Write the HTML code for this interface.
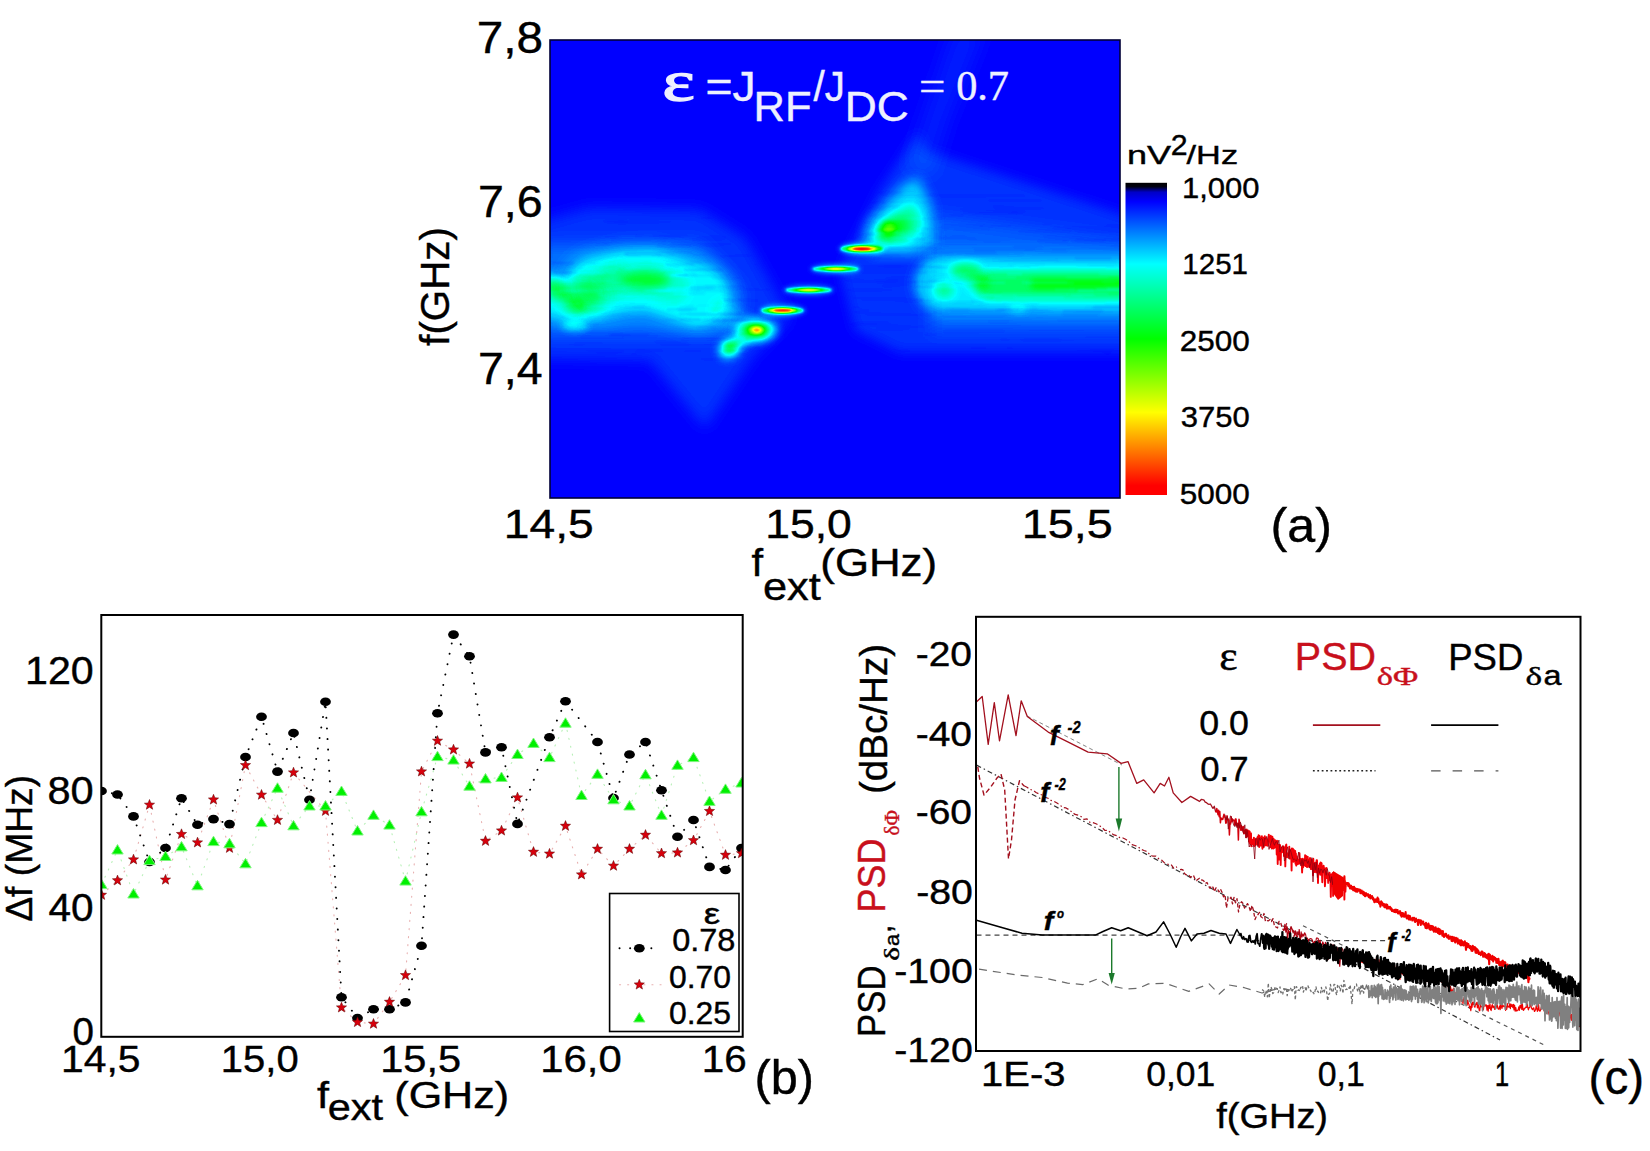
<!DOCTYPE html>
<html><head><meta charset="utf-8"><title>Figure</title>
<style>
html,body{margin:0;padding:0;background:#fff;}
body{width:1650px;height:1151px;overflow:hidden;}
svg{display:block;}
text{white-space:pre;}
</style></head><body>
<svg width="1650" height="1151" viewBox="0 0 1650 1151">
<rect width="1650" height="1151" fill="#fff"/>
<!-- panel a -->
<defs>
<filter id="cm" color-interpolation-filters="sRGB" filterUnits="userSpaceOnUse" x="540" y="30" width="600" height="480"><feComponentTransfer><feFuncR type="table" tableValues="0 0 0 1 1 0.25"/><feFuncG type="table" tableValues="0 1 1 1 0 0"/><feFuncB type="table" tableValues="1 1 0 0 0 0"/></feComponentTransfer></filter>
<filter id="b1" filterUnits="userSpaceOnUse" x="400" y="-100" width="900" height="800"><feGaussianBlur stdDeviation="1"/></filter>
<filter id="b2" filterUnits="userSpaceOnUse" x="400" y="-100" width="900" height="800"><feGaussianBlur stdDeviation="2"/></filter>
<filter id="b3" filterUnits="userSpaceOnUse" x="400" y="-100" width="900" height="800"><feGaussianBlur stdDeviation="3"/></filter>
<filter id="b4" filterUnits="userSpaceOnUse" x="400" y="-100" width="900" height="800"><feGaussianBlur stdDeviation="4"/></filter>
<filter id="b5" filterUnits="userSpaceOnUse" x="400" y="-100" width="900" height="800"><feGaussianBlur stdDeviation="5"/></filter>
<filter id="b6" filterUnits="userSpaceOnUse" x="400" y="-100" width="900" height="800"><feGaussianBlur stdDeviation="6"/></filter>
<filter id="b7" filterUnits="userSpaceOnUse" x="400" y="-100" width="900" height="800"><feGaussianBlur stdDeviation="7"/></filter>
<filter id="b8" filterUnits="userSpaceOnUse" x="400" y="-100" width="900" height="800"><feGaussianBlur stdDeviation="8"/></filter>
<filter id="b9" filterUnits="userSpaceOnUse" x="400" y="-100" width="900" height="800"><feGaussianBlur stdDeviation="9"/></filter>
<filter id="b10" filterUnits="userSpaceOnUse" x="400" y="-100" width="900" height="800"><feGaussianBlur stdDeviation="10"/></filter>
<filter id="b11" filterUnits="userSpaceOnUse" x="400" y="-100" width="900" height="800"><feGaussianBlur stdDeviation="11"/></filter>
<filter id="b12" filterUnits="userSpaceOnUse" x="400" y="-100" width="900" height="800"><feGaussianBlur stdDeviation="12"/></filter>
<filter id="b13" filterUnits="userSpaceOnUse" x="400" y="-100" width="900" height="800"><feGaussianBlur stdDeviation="13"/></filter>
<filter id="b14" filterUnits="userSpaceOnUse" x="400" y="-100" width="900" height="800"><feGaussianBlur stdDeviation="14"/></filter>
<clipPath id="hc"><rect x="550" y="40" width="570" height="458"/></clipPath>
<linearGradient id="cbar" x1="0" y1="0" x2="0" y2="1"><stop offset="0" stop-color="#000"/><stop offset="0.012" stop-color="#000010"/><stop offset="0.03" stop-color="#0000c8"/><stop offset="0.06" stop-color="#0000ff"/><stop offset="0.26" stop-color="#00ffff"/><stop offset="0.5" stop-color="#00ff00"/><stop offset="0.735" stop-color="#ffff00"/><stop offset="0.97" stop-color="#ff0000"/><stop offset="1" stop-color="#ff0000"/></linearGradient>
</defs>
<g clip-path="url(#hc)"><g filter="url(#cm)">
<rect x="540" y="30" width="600" height="480" fill="#000"/>
<polygon points="540,222 590,208 700,210 745,238 790,318 753,356 705,428 650,360 540,358" fill="#fff" fill-opacity="0.04" filter="url(#b7)"/>
<polygon points="540,245 700,243 742,290 740,335 540,335" fill="#fff" fill-opacity="0.05" filter="url(#b8)"/>
<polygon points="925,150 1130,217 1130,352 900,352 855,330 840,270 880,190 918,132" fill="#fff" fill-opacity="0.04" filter="url(#b6)"/>
<polygon points="930,215 1130,242 1130,332 930,332" fill="#fff" fill-opacity="0.035" filter="url(#b8)"/>
<polygon points="905,168 952,30 986,30 950,120 932,178" fill="#fff" fill-opacity="0.02" filter="url(#b8)"/>
<polyline points="598,287 625,281 650,280 672,287 698,296" fill="none" stroke="#fff" stroke-opacity="0.05" stroke-width="76" stroke-linecap="round" stroke-linejoin="round" filter="url(#b7)"/>
<polyline points="598,287 625,281 650,280 672,287 698,296" fill="none" stroke="#fff" stroke-opacity="0.075" stroke-width="58" stroke-linecap="round" stroke-linejoin="round" filter="url(#b5)"/>
<polyline points="598,287 625,281 650,280 672,287" fill="none" stroke="#fff" stroke-opacity="0.05" stroke-width="34" stroke-linecap="round" stroke-linejoin="round" filter="url(#b5)"/>
<polyline points="540,294 572,303 584,296" fill="none" stroke="#fff" stroke-opacity="0.08" stroke-width="46" stroke-linecap="round" stroke-linejoin="round" filter="url(#b6)"/>
<polyline points="540,294 572,303 584,296" fill="none" stroke="#fff" stroke-opacity="0.06" stroke-width="28" stroke-linecap="round" stroke-linejoin="round" filter="url(#b4)"/>
<ellipse cx="557" cy="289" rx="14" ry="9" fill="#fff" fill-opacity="0.17" filter="url(#b4)" transform="rotate(35 557 289)"/>
<ellipse cx="575" cy="305" rx="11" ry="7" fill="#fff" fill-opacity="0.14" filter="url(#b4)" transform="rotate(20 575 305)"/>
<ellipse cx="575" cy="326" rx="13" ry="5" fill="#fff" fill-opacity="0.09" filter="url(#b3)"/>
<ellipse cx="646" cy="280" rx="24" ry="9" fill="#fff" fill-opacity="0.17" filter="url(#b5)"/>
<ellipse cx="612" cy="279" rx="16" ry="15" fill="#fff" fill-opacity="0.06" filter="url(#b5)"/>
<polyline points="722,310 738,321 755,330" fill="none" stroke="#fff" stroke-opacity="0.045" stroke-width="20" stroke-linecap="round" stroke-linejoin="round" filter="url(#b5)"/>
<ellipse cx="756.6" cy="330.3" rx="20" ry="11" fill="#fff" fill-opacity="0.22" filter="url(#b4)"/>
<ellipse cx="756.6" cy="330.3" rx="11" ry="6" fill="#fff" fill-opacity="0.3" filter="url(#b3)"/>
<ellipse cx="756.6" cy="330.3" rx="5" ry="2.5" fill="#fff" fill-opacity="0.55" filter="url(#b2)"/>
<ellipse cx="730" cy="348" rx="12" ry="9" fill="#fff" fill-opacity="0.22" filter="url(#b4)" transform="rotate(-35 730 348)"/>
<ellipse cx="730" cy="348" rx="6" ry="5" fill="#fff" fill-opacity="0.2" filter="url(#b3)"/>
<ellipse cx="742" cy="340" rx="10" ry="7" fill="#fff" fill-opacity="0.1" filter="url(#b3)"/>
<ellipse cx="782.6" cy="310.5" rx="23" ry="6.1" fill="#fff" fill-opacity="0.1" filter="url(#b2)"/>
<ellipse cx="782.6" cy="310.5" rx="21" ry="3.6" fill="#fff" fill-opacity="0.28" filter="url(#b1)"/>
<ellipse cx="782.6" cy="310.5" rx="14.7" ry="2.16" fill="#fff" fill-opacity="0.45" filter="url(#b1)"/>
<ellipse cx="782.6" cy="310.5" rx="9.450000000000001" ry="1.26" fill="#fff" fill-opacity="0.7" filter="url(#b1)"/>
<ellipse cx="808.7" cy="290" rx="25" ry="5.1" fill="#fff" fill-opacity="0.1" filter="url(#b2)"/>
<ellipse cx="808.7" cy="290" rx="23" ry="2.6" fill="#fff" fill-opacity="0.28" filter="url(#b1)"/>
<ellipse cx="808.7" cy="290" rx="16.099999999999998" ry="1.56" fill="#fff" fill-opacity="0.27" filter="url(#b1)"/>
<ellipse cx="808.7" cy="290" rx="10.35" ry="0.9099999999999999" fill="#fff" fill-opacity="0.42" filter="url(#b1)"/>
<ellipse cx="835.5" cy="269" rx="25" ry="5.1" fill="#fff" fill-opacity="0.1" filter="url(#b2)"/>
<ellipse cx="835.5" cy="269" rx="23" ry="2.6" fill="#fff" fill-opacity="0.28" filter="url(#b1)"/>
<ellipse cx="835.5" cy="269" rx="16.099999999999998" ry="1.56" fill="#fff" fill-opacity="0.27" filter="url(#b1)"/>
<ellipse cx="835.5" cy="269" rx="10.35" ry="0.9099999999999999" fill="#fff" fill-opacity="0.42" filter="url(#b1)"/>
<ellipse cx="861.7" cy="248.8" rx="23" ry="6.3" fill="#fff" fill-opacity="0.1" filter="url(#b2)"/>
<ellipse cx="861.7" cy="248.8" rx="21" ry="3.8" fill="#fff" fill-opacity="0.28" filter="url(#b1)"/>
<ellipse cx="861.7" cy="248.8" rx="14.7" ry="2.28" fill="#fff" fill-opacity="0.45" filter="url(#b1)"/>
<ellipse cx="861.7" cy="248.8" rx="9.450000000000001" ry="1.3299999999999998" fill="#fff" fill-opacity="0.7" filter="url(#b1)"/>
<polygon points="864,244 868,222 886,203 905,183 918,178 931,204 934,244 916,254 876,254" fill="#fff" fill-opacity="0.13" filter="url(#b6)"/>
<polygon points="874,238 880,224 896,212 912,203 921,217 919,236 905,244 884,244" fill="#fff" fill-opacity="0.13" filter="url(#b5)"/>
<ellipse cx="893" cy="229" rx="17" ry="10" fill="#fff" fill-opacity="0.13" filter="url(#b4)" transform="rotate(-25 893 229)"/>
<ellipse cx="888" cy="229" rx="8" ry="7" fill="#fff" fill-opacity="0.2" filter="url(#b3)"/>
<polyline points="948,284 1000,284 1060,285 1130,285" fill="none" stroke="#fff" stroke-opacity="0.045" stroke-width="70" stroke-linecap="round" stroke-linejoin="round" filter="url(#b6)"/>
<polyline points="940,283 1000,284 1060,285 1130,285" fill="none" stroke="#fff" stroke-opacity="0.08" stroke-width="50" stroke-linecap="round" stroke-linejoin="round" filter="url(#b4)"/>
<polyline points="990,285 1060,285 1130,285" fill="none" stroke="#fff" stroke-opacity="0.17" stroke-width="28" stroke-linecap="round" stroke-linejoin="round" filter="url(#b4)"/>
<polyline points="1035,284 1130,284" fill="none" stroke="#fff" stroke-opacity="0.11" stroke-width="10" stroke-linecap="round" stroke-linejoin="round" filter="url(#b3)"/>
<ellipse cx="966" cy="271" rx="15" ry="8" fill="#fff" fill-opacity="0.17" filter="url(#b4)"/>
<ellipse cx="944" cy="290" rx="10" ry="8" fill="#fff" fill-opacity="0.12" filter="url(#b4)"/>
<ellipse cx="978" cy="282" rx="11" ry="9" fill="#fff" fill-opacity="0.1" filter="url(#b4)"/>
<ellipse cx="1018" cy="309" rx="10" ry="4" fill="#fff" fill-opacity="0.06" filter="url(#b3)"/>
<g fill="#000" filter="url(#b1)" id="streaks"><rect x="861" y="269.2" width="66" height="1" fill-opacity="0.10"/><rect x="834" y="222.3" width="49" height="1" fill-opacity="0.14"/><rect x="625" y="268.2" width="44" height="1" fill-opacity="0.15"/><rect x="769" y="294.2" width="39" height="1" fill-opacity="0.13"/><rect x="1015" y="299.0" width="18" height="1" fill-opacity="0.05"/><rect x="985" y="294.9" width="32" height="1" fill-opacity="0.12"/><rect x="907" y="280.8" width="42" height="2" fill-opacity="0.12"/><rect x="775" y="304.6" width="45" height="1" fill-opacity="0.15"/><rect x="723" y="313.9" width="27" height="1" fill-opacity="0.08"/><rect x="606" y="288.5" width="20" height="1" fill-opacity="0.08"/><rect x="1024" y="357.7" width="14" height="1" fill-opacity="0.07"/><rect x="1099" y="272.2" width="36" height="1" fill-opacity="0.06"/><rect x="697" y="326.2" width="19" height="2" fill-opacity="0.09"/><rect x="612" y="322.7" width="28" height="1" fill-opacity="0.06"/><rect x="820" y="271.4" width="52" height="1" fill-opacity="0.07"/><rect x="980" y="362.4" width="37" height="2" fill-opacity="0.09"/><rect x="665" y="263.6" width="29" height="1.5" fill-opacity="0.16"/><rect x="556" y="364.6" width="24" height="1" fill-opacity="0.16"/><rect x="628" y="197.4" width="39" height="1.5" fill-opacity="0.05"/><rect x="763" y="335.3" width="18" height="1" fill-opacity="0.07"/><rect x="753" y="192.7" width="49" height="2" fill-opacity="0.06"/><rect x="622" y="335.7" width="36" height="1.5" fill-opacity="0.12"/><rect x="1007" y="349.0" width="28" height="1" fill-opacity="0.07"/><rect x="764" y="310.2" width="41" height="1" fill-opacity="0.06"/><rect x="567" y="208.2" width="68" height="2" fill-opacity="0.08"/><rect x="1010" y="235.0" width="47" height="1" fill-opacity="0.08"/><rect x="1097" y="352.6" width="21" height="1" fill-opacity="0.10"/><rect x="1063" y="239.0" width="25" height="1.5" fill-opacity="0.05"/><rect x="686" y="262.0" width="17" height="1" fill-opacity="0.08"/><rect x="623" y="206.1" width="39" height="1" fill-opacity="0.09"/><rect x="1067" y="293.2" width="41" height="1.5" fill-opacity="0.09"/><rect x="557" y="358.5" width="50" height="1.5" fill-opacity="0.10"/><rect x="1110" y="245.8" width="18" height="1" fill-opacity="0.11"/><rect x="961" y="347.5" width="53" height="1.5" fill-opacity="0.14"/><rect x="932" y="251.6" width="64" height="2" fill-opacity="0.15"/><rect x="562" y="355.2" width="42" height="2" fill-opacity="0.05"/><rect x="552" y="256.4" width="18" height="1" fill-opacity="0.06"/><rect x="1042" y="363.8" width="55" height="2" fill-opacity="0.09"/><rect x="1019" y="267.1" width="19" height="1" fill-opacity="0.13"/><rect x="595" y="244.3" width="15" height="1" fill-opacity="0.16"/><rect x="892" y="277.0" width="66" height="1" fill-opacity="0.08"/><rect x="626" y="254.4" width="48" height="1.5" fill-opacity="0.11"/><rect x="795" y="305.5" width="64" height="1.5" fill-opacity="0.09"/><rect x="788" y="224.7" width="59" height="1" fill-opacity="0.15"/><rect x="874" y="257.3" width="32" height="2" fill-opacity="0.06"/><rect x="1051" y="251.4" width="16" height="1.5" fill-opacity="0.06"/><rect x="609" y="333.8" width="40" height="2" fill-opacity="0.15"/><rect x="839" y="256.9" width="52" height="2" fill-opacity="0.13"/><rect x="1013" y="246.1" width="30" height="1.5" fill-opacity="0.12"/><rect x="720" y="289.9" width="58" height="1" fill-opacity="0.05"/><rect x="652" y="260.9" width="57" height="1" fill-opacity="0.08"/><rect x="1101" y="329.4" width="20" height="1.5" fill-opacity="0.06"/><rect x="932" y="357.7" width="25" height="1" fill-opacity="0.10"/><rect x="972" y="315.0" width="44" height="1" fill-opacity="0.05"/><rect x="740" y="237.7" width="53" height="1" fill-opacity="0.11"/><rect x="992" y="258.9" width="65" height="2" fill-opacity="0.06"/><rect x="801" y="212.7" width="49" height="2" fill-opacity="0.15"/><rect x="914" y="286.3" width="42" height="1.5" fill-opacity="0.14"/><rect x="913" y="271.1" width="25" height="1" fill-opacity="0.13"/><rect x="1053" y="227.3" width="69" height="1.5" fill-opacity="0.16"/><rect x="951" y="235.8" width="15" height="1" fill-opacity="0.11"/><rect x="856" y="267.2" width="57" height="1" fill-opacity="0.10"/><rect x="1035" y="228.2" width="38" height="1.5" fill-opacity="0.05"/><rect x="1063" y="310.2" width="40" height="2" fill-opacity="0.16"/><rect x="823" y="355.5" width="67" height="1" fill-opacity="0.06"/><rect x="861" y="266.9" width="61" height="1" fill-opacity="0.11"/><rect x="1022" y="281.5" width="45" height="2" fill-opacity="0.08"/><rect x="1037" y="357.1" width="48" height="1" fill-opacity="0.08"/><rect x="841" y="359.5" width="46" height="1" fill-opacity="0.07"/><rect x="887" y="278.1" width="16" height="2" fill-opacity="0.16"/><rect x="1104" y="285.2" width="21" height="1" fill-opacity="0.06"/><rect x="849" y="201.5" width="37" height="2" fill-opacity="0.16"/><rect x="812" y="237.1" width="21" height="2" fill-opacity="0.10"/><rect x="606" y="281.9" width="37" height="1.5" fill-opacity="0.05"/><rect x="985" y="212.7" width="15" height="1" fill-opacity="0.07"/><rect x="706" y="192.1" width="55" height="2" fill-opacity="0.08"/><rect x="958" y="208.4" width="21" height="1.5" fill-opacity="0.11"/><rect x="941" y="315.6" width="63" height="2" fill-opacity="0.05"/><rect x="893" y="334.4" width="44" height="1" fill-opacity="0.15"/><rect x="1026" y="282.7" width="48" height="1" fill-opacity="0.14"/><rect x="900" y="350.1" width="33" height="1.5" fill-opacity="0.07"/><rect x="655" y="345.9" width="58" height="1" fill-opacity="0.07"/><rect x="680" y="213.4" width="55" height="1" fill-opacity="0.08"/><rect x="1077" y="266.1" width="44" height="1" fill-opacity="0.13"/><rect x="932" y="260.5" width="15" height="1.5" fill-opacity="0.07"/><rect x="1092" y="349.5" width="20" height="1.5" fill-opacity="0.11"/><rect x="932" y="278.0" width="25" height="1" fill-opacity="0.06"/><rect x="976" y="194.3" width="48" height="2" fill-opacity="0.15"/><rect x="649" y="215.6" width="25" height="1.5" fill-opacity="0.14"/><rect x="599" y="352.2" width="17" height="2" fill-opacity="0.15"/><rect x="600" y="203.6" width="36" height="1.5" fill-opacity="0.10"/><rect x="885" y="265.3" width="15" height="1" fill-opacity="0.13"/><rect x="801" y="221.7" width="55" height="1" fill-opacity="0.09"/><rect x="599" y="295.9" width="58" height="1" fill-opacity="0.09"/><rect x="943" y="330.3" width="62" height="2" fill-opacity="0.12"/><rect x="653" y="289.7" width="47" height="1.5" fill-opacity="0.09"/><rect x="611" y="238.9" width="56" height="2" fill-opacity="0.07"/><rect x="731" y="213.3" width="44" height="2" fill-opacity="0.09"/><rect x="774" y="323.9" width="54" height="1.5" fill-opacity="0.06"/><rect x="602" y="242.8" width="64" height="1" fill-opacity="0.16"/><rect x="1079" y="230.6" width="51" height="2" fill-opacity="0.09"/><rect x="846" y="289.7" width="36" height="1" fill-opacity="0.16"/><rect x="975" y="312.7" width="69" height="1" fill-opacity="0.05"/><rect x="690" y="319.3" width="36" height="1" fill-opacity="0.06"/><rect x="551" y="303.4" width="28" height="1.5" fill-opacity="0.08"/><rect x="832" y="286.3" width="68" height="1" fill-opacity="0.11"/><rect x="1002" y="301.7" width="18" height="1" fill-opacity="0.12"/><rect x="1075" y="257.6" width="36" height="2" fill-opacity="0.16"/><rect x="882" y="284.8" width="38" height="1.5" fill-opacity="0.10"/><rect x="883" y="282.2" width="34" height="1.5" fill-opacity="0.08"/><rect x="705" y="288.1" width="54" height="1" fill-opacity="0.08"/><rect x="876" y="325.2" width="49" height="2" fill-opacity="0.09"/><rect x="723" y="199.2" width="36" height="1.5" fill-opacity="0.11"/><rect x="1057" y="202.9" width="38" height="1" fill-opacity="0.10"/><rect x="601" y="198.0" width="59" height="1" fill-opacity="0.15"/><rect x="1006" y="361.3" width="48" height="2" fill-opacity="0.06"/><rect x="660" y="269.7" width="17" height="1" fill-opacity="0.11"/><rect x="624" y="253.6" width="37" height="2" fill-opacity="0.12"/><rect x="965" y="253.7" width="60" height="1.5" fill-opacity="0.07"/><rect x="680" y="318.5" width="20" height="1.5" fill-opacity="0.15"/><rect x="890" y="238.1" width="55" height="1" fill-opacity="0.13"/><rect x="971" y="300.8" width="25" height="1" fill-opacity="0.08"/><rect x="567" y="343.8" width="17" height="2" fill-opacity="0.08"/><rect x="566" y="194.7" width="26" height="1" fill-opacity="0.08"/><rect x="636" y="349.8" width="27" height="2" fill-opacity="0.16"/><rect x="664" y="273.7" width="33" height="1" fill-opacity="0.13"/><rect x="798" y="330.4" width="60" height="1" fill-opacity="0.14"/><rect x="967" y="267.8" width="36" height="1" fill-opacity="0.07"/><rect x="1104" y="304.4" width="32" height="1" fill-opacity="0.11"/><rect x="754" y="264.8" width="19" height="1" fill-opacity="0.15"/><rect x="789" y="285.1" width="46" height="2" fill-opacity="0.14"/><rect x="983" y="242.3" width="18" height="1" fill-opacity="0.07"/><rect x="825" y="311.6" width="57" height="1" fill-opacity="0.09"/><rect x="916" y="228.3" width="32" height="1.5" fill-opacity="0.15"/><rect x="867" y="314.1" width="65" height="1.5" fill-opacity="0.15"/><rect x="999" y="266.6" width="31" height="2" fill-opacity="0.08"/><rect x="957" y="359.4" width="43" height="1.5" fill-opacity="0.06"/><rect x="928" y="194.2" width="47" height="1.5" fill-opacity="0.14"/><rect x="850" y="329.5" width="61" height="1" fill-opacity="0.11"/><rect x="802" y="205.7" width="62" height="1" fill-opacity="0.14"/><rect x="852" y="280.2" width="46" height="2" fill-opacity="0.16"/><rect x="854" y="201.2" width="58" height="1" fill-opacity="0.06"/><rect x="605" y="237.9" width="32" height="1" fill-opacity="0.05"/><rect x="1006" y="207.1" width="38" height="2" fill-opacity="0.13"/><rect x="840" y="323.9" width="57" height="1.5" fill-opacity="0.09"/><rect x="733" y="331.3" width="22" height="1" fill-opacity="0.10"/><rect x="1062" y="313.9" width="37" height="1.5" fill-opacity="0.14"/><rect x="1000" y="339.4" width="61" height="1" fill-opacity="0.15"/><rect x="946" y="281.7" width="59" height="2" fill-opacity="0.10"/><rect x="684" y="350.2" width="23" height="1" fill-opacity="0.12"/><rect x="765" y="246.2" width="44" height="1" fill-opacity="0.08"/><rect x="958" y="272.5" width="31" height="1" fill-opacity="0.07"/><rect x="971" y="349.6" width="15" height="1" fill-opacity="0.10"/><rect x="657" y="244.7" width="34" height="2" fill-opacity="0.11"/><rect x="672" y="294.1" width="24" height="1" fill-opacity="0.08"/><rect x="1075" y="349.4" width="49" height="2" fill-opacity="0.15"/><rect x="819" y="339.3" width="37" height="1" fill-opacity="0.16"/><rect x="670" y="274.5" width="17" height="2" fill-opacity="0.15"/><rect x="994" y="360.8" width="57" height="1" fill-opacity="0.14"/><rect x="679" y="305.1" width="15" height="1.5" fill-opacity="0.10"/><rect x="684" y="268.8" width="38" height="2" fill-opacity="0.15"/><rect x="727" y="217.5" width="29" height="1" fill-opacity="0.15"/><rect x="1106" y="301.5" width="29" height="1" fill-opacity="0.11"/><rect x="646" y="290.1" width="25" height="1" fill-opacity="0.15"/><rect x="592" y="333.9" width="29" height="1" fill-opacity="0.13"/><rect x="937" y="345.7" width="19" height="1.5" fill-opacity="0.13"/><rect x="651" y="193.3" width="25" height="2" fill-opacity="0.13"/><rect x="852" y="226.5" width="43" height="1.5" fill-opacity="0.07"/><rect x="774" y="245.3" width="45" height="1" fill-opacity="0.16"/><rect x="933" y="252.9" width="20" height="2" fill-opacity="0.09"/><rect x="988" y="320.7" width="21" height="2" fill-opacity="0.10"/><rect x="814" y="314.6" width="30" height="1" fill-opacity="0.06"/><rect x="1022" y="339.8" width="54" height="1" fill-opacity="0.15"/><rect x="757" y="240.8" width="44" height="1.5" fill-opacity="0.08"/><rect x="859" y="322.1" width="19" height="2" fill-opacity="0.07"/><rect x="731" y="318.0" width="67" height="1.5" fill-opacity="0.11"/><rect x="761" y="268.2" width="20" height="1" fill-opacity="0.12"/><rect x="945" y="308.6" width="24" height="2" fill-opacity="0.09"/><rect x="596" y="293.7" width="27" height="1" fill-opacity="0.07"/><rect x="981" y="265.9" width="33" height="1" fill-opacity="0.14"/><rect x="978" y="303.3" width="60" height="1.5" fill-opacity="0.09"/><rect x="897" y="351.2" width="55" height="1.5" fill-opacity="0.12"/><rect x="991" y="361.8" width="51" height="1" fill-opacity="0.12"/><rect x="652" y="235.6" width="31" height="2" fill-opacity="0.10"/><rect x="733" y="225.9" width="30" height="1" fill-opacity="0.06"/><rect x="849" y="234.4" width="31" height="1" fill-opacity="0.08"/><rect x="657" y="290.5" width="66" height="1" fill-opacity="0.16"/><rect x="560" y="289.3" width="51" height="1" fill-opacity="0.14"/><rect x="871" y="232.8" width="53" height="1.5" fill-opacity="0.09"/><rect x="1044" y="236.6" width="39" height="1" fill-opacity="0.13"/><rect x="852" y="348.2" width="45" height="1.5" fill-opacity="0.11"/><rect x="966" y="219.5" width="64" height="1" fill-opacity="0.09"/><rect x="1011" y="211.5" width="30" height="1" fill-opacity="0.15"/><rect x="750" y="322.7" width="23" height="1" fill-opacity="0.12"/><rect x="773" y="269.5" width="58" height="1" fill-opacity="0.15"/><rect x="924" y="243.8" width="55" height="1" fill-opacity="0.09"/><rect x="778" y="217.7" width="16" height="1" fill-opacity="0.11"/><rect x="643" y="289.7" width="43" height="1.5" fill-opacity="0.08"/><rect x="988" y="199.4" width="54" height="2" fill-opacity="0.14"/><rect x="884" y="357.9" width="40" height="2" fill-opacity="0.10"/><rect x="819" y="321.6" width="70" height="2" fill-opacity="0.14"/><rect x="611" y="334.4" width="20" height="1.5" fill-opacity="0.15"/><rect x="789" y="281.9" width="65" height="1" fill-opacity="0.09"/><rect x="893" y="241.8" width="38" height="1.5" fill-opacity="0.09"/><rect x="717" y="321.6" width="47" height="1" fill-opacity="0.06"/><rect x="682" y="337.8" width="63" height="2" fill-opacity="0.16"/><rect x="842" y="311.6" width="27" height="2" fill-opacity="0.08"/><rect x="1042" y="354.5" width="70" height="1.5" fill-opacity="0.13"/><rect x="783" y="341.6" width="59" height="2" fill-opacity="0.07"/><rect x="1055" y="289.2" width="20" height="1" fill-opacity="0.14"/><rect x="870" y="344.4" width="39" height="1.5" fill-opacity="0.08"/><rect x="642" y="194.2" width="39" height="2" fill-opacity="0.10"/><rect x="936" y="214.7" width="27" height="2" fill-opacity="0.08"/><rect x="719" y="347.2" width="42" height="2" fill-opacity="0.15"/><rect x="660" y="343.8" width="62" height="1" fill-opacity="0.13"/><rect x="1018" y="224.2" width="34" height="1" fill-opacity="0.10"/><rect x="939" y="301.2" width="45" height="1" fill-opacity="0.11"/><rect x="1042" y="223.5" width="17" height="1.5" fill-opacity="0.06"/><rect x="700" y="358.2" width="38" height="1.5" fill-opacity="0.15"/><rect x="1075" y="311.8" width="39" height="1" fill-opacity="0.06"/><rect x="613" y="340.8" width="53" height="1" fill-opacity="0.08"/><rect x="712" y="277.7" width="29" height="1" fill-opacity="0.14"/><rect x="674" y="293.2" width="31" height="1" fill-opacity="0.15"/><rect x="907" y="238.4" width="19" height="2" fill-opacity="0.16"/><rect x="587" y="350.5" width="65" height="1.5" fill-opacity="0.05"/><rect x="784" y="284.0" width="46" height="1" fill-opacity="0.07"/><rect x="703" y="233.0" width="45" height="1" fill-opacity="0.07"/><rect x="564" y="362.9" width="40" height="2" fill-opacity="0.13"/><rect x="1049" y="190.5" width="17" height="1.5" fill-opacity="0.06"/><rect x="818" y="246.1" width="16" height="1" fill-opacity="0.08"/><rect x="981" y="293.9" width="20" height="2" fill-opacity="0.10"/><rect x="690" y="285.9" width="54" height="1.5" fill-opacity="0.13"/><rect x="670" y="275.6" width="46" height="1" fill-opacity="0.10"/><rect x="1093" y="225.4" width="17" height="1" fill-opacity="0.10"/><rect x="889" y="246.9" width="48" height="2" fill-opacity="0.14"/><rect x="1029" y="316.5" width="16" height="1" fill-opacity="0.06"/><rect x="852" y="289.6" width="58" height="1" fill-opacity="0.08"/><rect x="785" y="199.4" width="53" height="1.5" fill-opacity="0.14"/><rect x="827" y="323.9" width="50" height="2" fill-opacity="0.11"/><rect x="635" y="234.6" width="53" height="2" fill-opacity="0.14"/><rect x="777" y="200.7" width="34" height="1" fill-opacity="0.07"/><rect x="972" y="212.5" width="48" height="2" fill-opacity="0.06"/><rect x="1102" y="281.3" width="14" height="1" fill-opacity="0.10"/><rect x="859" y="206.0" width="40" height="1" fill-opacity="0.15"/><rect x="950" y="309.0" width="69" height="1.5" fill-opacity="0.12"/><rect x="857" y="234.3" width="28" height="1" fill-opacity="0.10"/><rect x="735" y="253.7" width="69" height="1" fill-opacity="0.12"/><rect x="876" y="218.1" width="70" height="1" fill-opacity="0.13"/><rect x="767" y="271.0" width="61" height="1" fill-opacity="0.09"/><rect x="741" y="227.7" width="24" height="1" fill-opacity="0.11"/><rect x="771" y="274.0" width="47" height="2" fill-opacity="0.13"/><rect x="1106" y="268.2" width="52" height="1" fill-opacity="0.14"/><rect x="782" y="284.6" width="17" height="1.5" fill-opacity="0.08"/><rect x="838" y="298.7" width="56" height="1" fill-opacity="0.11"/><rect x="749" y="237.0" width="23" height="1.5" fill-opacity="0.15"/><rect x="681" y="214.0" width="61" height="1.5" fill-opacity="0.06"/><rect x="799" y="336.8" width="62" height="1.5" fill-opacity="0.09"/><rect x="838" y="324.9" width="17" height="1" fill-opacity="0.09"/><rect x="651" y="275.5" width="43" height="1" fill-opacity="0.06"/><rect x="785" y="244.6" width="44" height="1.5" fill-opacity="0.06"/><rect x="800" y="244.9" width="35" height="1.5" fill-opacity="0.15"/><rect x="799" y="283.6" width="22" height="1.5" fill-opacity="0.11"/><rect x="710" y="229.6" width="33" height="1" fill-opacity="0.07"/><rect x="967" y="338.4" width="41" height="1.5" fill-opacity="0.05"/><rect x="583" y="305.6" width="62" height="1.5" fill-opacity="0.11"/><rect x="1085" y="306.7" width="63" height="1.5" fill-opacity="0.08"/><rect x="787" y="205.7" width="36" height="2" fill-opacity="0.06"/><rect x="706" y="352.9" width="53" height="2" fill-opacity="0.07"/><rect x="979" y="225.3" width="34" height="1" fill-opacity="0.13"/><rect x="1058" y="320.0" width="59" height="1.5" fill-opacity="0.10"/><rect x="858" y="312.7" width="53" height="2" fill-opacity="0.05"/><rect x="1059" y="211.1" width="65" height="2" fill-opacity="0.08"/><rect x="876" y="276.7" width="40" height="1.5" fill-opacity="0.09"/><rect x="565" y="202.6" width="32" height="1.5" fill-opacity="0.09"/><rect x="922" y="235.8" width="24" height="1.5" fill-opacity="0.10"/><rect x="750" y="357.1" width="46" height="1" fill-opacity="0.15"/><rect x="896" y="299.8" width="37" height="1.5" fill-opacity="0.10"/><rect x="807" y="202.0" width="39" height="2" fill-opacity="0.16"/><rect x="622" y="196.7" width="42" height="1.5" fill-opacity="0.08"/><rect x="557" y="272.8" width="48" height="1.5" fill-opacity="0.08"/><rect x="678" y="309.0" width="14" height="2" fill-opacity="0.11"/><rect x="854" y="190.6" width="62" height="1" fill-opacity="0.13"/><rect x="862" y="299.3" width="61" height="1.5" fill-opacity="0.16"/><rect x="604" y="236.2" width="15" height="1" fill-opacity="0.14"/><rect x="933" y="311.7" width="68" height="1" fill-opacity="0.14"/><rect x="934" y="248.3" width="59" height="2" fill-opacity="0.08"/><rect x="968" y="240.0" width="44" height="1" fill-opacity="0.08"/><rect x="944" y="253.4" width="65" height="1" fill-opacity="0.13"/><rect x="1007" y="363.1" width="64" height="2" fill-opacity="0.08"/><rect x="929" y="279.7" width="16" height="2" fill-opacity="0.12"/><rect x="575" y="342.2" width="28" height="2" fill-opacity="0.11"/><rect x="904" y="234.3" width="35" height="1" fill-opacity="0.13"/><rect x="974" y="248.4" width="61" height="2" fill-opacity="0.14"/><rect x="616" y="302.2" width="55" height="1" fill-opacity="0.08"/><rect x="758" y="211.9" width="51" height="1" fill-opacity="0.08"/><rect x="812" y="360.4" width="53" height="1" fill-opacity="0.14"/><rect x="698" y="236.9" width="28" height="2" fill-opacity="0.12"/><rect x="1104" y="353.3" width="17" height="1" fill-opacity="0.13"/><rect x="654" y="342.4" width="34" height="1" fill-opacity="0.11"/><rect x="1056" y="260.8" width="61" height="1" fill-opacity="0.14"/><rect x="720" y="255.4" width="59" height="1.5" fill-opacity="0.14"/><rect x="953" y="229.1" width="37" height="2" fill-opacity="0.07"/><rect x="667" y="308.1" width="30" height="2" fill-opacity="0.15"/><rect x="606" y="220.6" width="66" height="2" fill-opacity="0.08"/><rect x="631" y="265.7" width="64" height="1" fill-opacity="0.08"/><rect x="771" y="237.9" width="32" height="1" fill-opacity="0.06"/><rect x="692" y="254.0" width="17" height="1.5" fill-opacity="0.06"/><rect x="547" y="307.3" width="33" height="1" fill-opacity="0.07"/><rect x="776" y="363.5" width="16" height="2" fill-opacity="0.09"/><rect x="666" y="287.5" width="49" height="1.5" fill-opacity="0.14"/><rect x="1075" y="238.5" width="62" height="2" fill-opacity="0.16"/><rect x="1077" y="290.0" width="17" height="1" fill-opacity="0.14"/><rect x="926" y="284.3" width="29" height="1.5" fill-opacity="0.05"/><rect x="808" y="201.0" width="64" height="1.5" fill-opacity="0.06"/><rect x="843" y="191.9" width="59" height="2" fill-opacity="0.14"/><rect x="999" y="259.9" width="60" height="1" fill-opacity="0.13"/><rect x="817" y="353.8" width="61" height="1" fill-opacity="0.09"/><rect x="625" y="191.7" width="32" height="1.5" fill-opacity="0.13"/><rect x="751" y="331.9" width="50" height="1.5" fill-opacity="0.09"/><rect x="914" y="201.7" width="47" height="1" fill-opacity="0.08"/><rect x="664" y="319.8" width="56" height="1" fill-opacity="0.11"/><rect x="605" y="221.0" width="22" height="2" fill-opacity="0.09"/><rect x="771" y="193.8" width="17" height="1" fill-opacity="0.06"/><rect x="644" y="193.6" width="18" height="1.5" fill-opacity="0.11"/><rect x="1089" y="265.3" width="26" height="1" fill-opacity="0.09"/><rect x="585" y="332.2" width="36" height="1" fill-opacity="0.15"/><rect x="842" y="326.1" width="15" height="2" fill-opacity="0.13"/><rect x="576" y="349.4" width="49" height="2" fill-opacity="0.09"/><rect x="900" y="339.9" width="42" height="1" fill-opacity="0.11"/><rect x="962" y="211.2" width="56" height="2" fill-opacity="0.10"/><rect x="762" y="263.4" width="27" height="1" fill-opacity="0.12"/><rect x="563" y="280.2" width="49" height="1" fill-opacity="0.10"/><rect x="1071" y="294.1" width="23" height="1.5" fill-opacity="0.10"/><rect x="722" y="319.1" width="55" height="2" fill-opacity="0.16"/><rect x="1092" y="199.2" width="56" height="1" fill-opacity="0.15"/><rect x="1020" y="231.0" width="50" height="1" fill-opacity="0.15"/><rect x="834" y="329.6" width="70" height="1" fill-opacity="0.06"/><rect x="687" y="314.5" width="59" height="1" fill-opacity="0.10"/><rect x="656" y="341.5" width="30" height="1" fill-opacity="0.12"/><rect x="794" y="208.8" width="56" height="1" fill-opacity="0.15"/><rect x="1028" y="330.0" width="57" height="1" fill-opacity="0.11"/><rect x="631" y="329.4" width="34" height="1" fill-opacity="0.06"/><rect x="1085" y="352.5" width="26" height="2" fill-opacity="0.08"/><rect x="765" y="221.8" width="62" height="2" fill-opacity="0.12"/><rect x="1103" y="202.6" width="26" height="1" fill-opacity="0.12"/><rect x="1107" y="288.0" width="35" height="1.5" fill-opacity="0.14"/><rect x="1079" y="337.8" width="51" height="1" fill-opacity="0.07"/><rect x="617" y="221.6" width="53" height="1" fill-opacity="0.10"/><rect x="691" y="238.7" width="33" height="1.5" fill-opacity="0.12"/><rect x="1107" y="224.3" width="53" height="1.5" fill-opacity="0.13"/><rect x="980" y="342.3" width="25" height="1.5" fill-opacity="0.06"/><rect x="1008" y="264.3" width="37" height="1" fill-opacity="0.10"/><rect x="741" y="354.8" width="53" height="1" fill-opacity="0.08"/><rect x="1038" y="239.9" width="30" height="2" fill-opacity="0.14"/><rect x="815" y="229.5" width="25" height="1" fill-opacity="0.10"/><rect x="581" y="268.5" width="37" height="2" fill-opacity="0.08"/><rect x="696" y="305.2" width="51" height="1" fill-opacity="0.05"/><rect x="757" y="192.6" width="47" height="2" fill-opacity="0.15"/><rect x="738" y="263.6" width="60" height="1" fill-opacity="0.14"/><rect x="601" y="285.5" width="64" height="1.5" fill-opacity="0.06"/><rect x="562" y="192.8" width="47" height="1" fill-opacity="0.13"/><rect x="633" y="306.9" width="18" height="1.5" fill-opacity="0.07"/><rect x="913" y="273.9" width="17" height="1" fill-opacity="0.07"/><rect x="768" y="363.7" width="60" height="1" fill-opacity="0.12"/><rect x="583" y="364.6" width="40" height="1" fill-opacity="0.09"/><rect x="875" y="280.6" width="42" height="2" fill-opacity="0.14"/><rect x="994" y="206.8" width="14" height="1.5" fill-opacity="0.16"/><rect x="1093" y="306.1" width="41" height="2" fill-opacity="0.15"/><rect x="554" y="272.0" width="62" height="1" fill-opacity="0.15"/><rect x="778" y="209.1" width="45" height="1" fill-opacity="0.16"/><rect x="832" y="242.8" width="21" height="1" fill-opacity="0.11"/><rect x="833" y="306.0" width="31" height="1" fill-opacity="0.09"/><rect x="779" y="233.2" width="17" height="2" fill-opacity="0.07"/><rect x="604" y="219.8" width="22" height="1" fill-opacity="0.15"/><rect x="864" y="215.2" width="24" height="1" fill-opacity="0.12"/><rect x="551" y="262.3" width="23" height="2" fill-opacity="0.14"/><rect x="845" y="217.4" width="16" height="1.5" fill-opacity="0.06"/><rect x="852" y="349.6" width="57" height="2" fill-opacity="0.14"/><rect x="589" y="262.8" width="29" height="2" fill-opacity="0.06"/><rect x="821" y="247.5" width="51" height="1" fill-opacity="0.15"/><rect x="828" y="289.4" width="65" height="1.5" fill-opacity="0.09"/><rect x="884" y="236.8" width="26" height="2" fill-opacity="0.06"/><rect x="912" y="257.3" width="33" height="1.5" fill-opacity="0.06"/><rect x="580" y="336.2" width="44" height="2" fill-opacity="0.11"/><rect x="926" y="333.3" width="54" height="1.5" fill-opacity="0.05"/><rect x="675" y="274.7" width="56" height="1" fill-opacity="0.10"/><rect x="880" y="255.3" width="20" height="1.5" fill-opacity="0.13"/><rect x="752" y="358.1" width="47" height="1.5" fill-opacity="0.09"/><rect x="976" y="226.7" width="17" height="1" fill-opacity="0.07"/><rect x="971" y="280.3" width="17" height="1.5" fill-opacity="0.06"/><rect x="1001" y="293.2" width="67" height="1.5" fill-opacity="0.12"/><rect x="706" y="260.4" width="52" height="1" fill-opacity="0.06"/><rect x="730" y="335.5" width="32" height="1.5" fill-opacity="0.14"/><rect x="577" y="302.4" width="57" height="1" fill-opacity="0.06"/><rect x="1069" y="286.6" width="50" height="1" fill-opacity="0.05"/><rect x="548" y="291.5" width="55" height="1" fill-opacity="0.10"/><rect x="592" y="220.2" width="52" height="2" fill-opacity="0.07"/><rect x="998" y="308.5" width="39" height="1" fill-opacity="0.15"/><rect x="1085" y="336.2" width="34" height="1" fill-opacity="0.14"/><rect x="769" y="313.0" width="53" height="1" fill-opacity="0.12"/><rect x="664" y="351.4" width="37" height="1" fill-opacity="0.11"/><rect x="700" y="217.1" width="37" height="2" fill-opacity="0.15"/><rect x="942" y="225.1" width="42" height="2" fill-opacity="0.10"/><rect x="817" y="279.5" width="45" height="1.5" fill-opacity="0.14"/><rect x="741" y="225.4" width="23" height="2" fill-opacity="0.09"/><rect x="878" y="269.2" width="40" height="1" fill-opacity="0.13"/><rect x="1099" y="274.1" width="32" height="1" fill-opacity="0.13"/><rect x="743" y="300.7" width="37" height="1" fill-opacity="0.05"/><rect x="689" y="330.5" width="28" height="1" fill-opacity="0.07"/><rect x="1096" y="287.9" width="65" height="2" fill-opacity="0.10"/><rect x="650" y="210.6" width="49" height="1" fill-opacity="0.12"/><rect x="940" y="196.1" width="46" height="1.5" fill-opacity="0.11"/><rect x="797" y="275.7" width="68" height="1.5" fill-opacity="0.09"/><rect x="988" y="207.1" width="26" height="1.5" fill-opacity="0.07"/><rect x="977" y="211.1" width="47" height="1.5" fill-opacity="0.15"/><rect x="751" y="310.6" width="67" height="1.5" fill-opacity="0.13"/><rect x="1014" y="296.4" width="69" height="1.5" fill-opacity="0.06"/><rect x="849" y="193.6" width="28" height="1.5" fill-opacity="0.08"/><rect x="693" y="288.1" width="18" height="1.5" fill-opacity="0.05"/><rect x="631" y="355.1" width="36" height="1" fill-opacity="0.14"/><rect x="852" y="296.6" width="55" height="1.5" fill-opacity="0.11"/><rect x="786" y="243.6" width="58" height="1" fill-opacity="0.12"/><rect x="933" y="274.2" width="33" height="1.5" fill-opacity="0.07"/><rect x="742" y="289.1" width="27" height="1" fill-opacity="0.15"/><rect x="1069" y="290.6" width="56" height="1" fill-opacity="0.08"/><rect x="864" y="207.9" width="21" height="1.5" fill-opacity="0.16"/><rect x="625" y="251.9" width="67" height="1" fill-opacity="0.12"/><rect x="868" y="195.2" width="69" height="1" fill-opacity="0.13"/><rect x="929" y="266.4" width="19" height="2" fill-opacity="0.13"/><rect x="1042" y="351.9" width="20" height="1" fill-opacity="0.07"/><rect x="820" y="203.8" width="45" height="1" fill-opacity="0.16"/><rect x="715" y="213.6" width="33" height="1" fill-opacity="0.13"/><rect x="1082" y="360.8" width="66" height="1" fill-opacity="0.14"/><rect x="994" y="296.6" width="70" height="1.5" fill-opacity="0.11"/><rect x="594" y="353.3" width="43" height="1" fill-opacity="0.16"/><rect x="713" y="209.1" width="31" height="2" fill-opacity="0.16"/><rect x="1014" y="195.6" width="53" height="1" fill-opacity="0.11"/><rect x="583" y="190.1" width="58" height="1" fill-opacity="0.16"/><rect x="735" y="261.3" width="33" height="1" fill-opacity="0.05"/><rect x="876" y="235.9" width="43" height="1.5" fill-opacity="0.09"/><rect x="677" y="269.6" width="63" height="1" fill-opacity="0.07"/><rect x="800" y="227.0" width="26" height="1" fill-opacity="0.15"/><rect x="915" y="231.7" width="29" height="1.5" fill-opacity="0.11"/><rect x="558" y="290.3" width="31" height="1.5" fill-opacity="0.06"/><rect x="660" y="319.4" width="16" height="1" fill-opacity="0.08"/><rect x="976" y="203.8" width="28" height="2" fill-opacity="0.07"/><rect x="623" y="287.5" width="52" height="1" fill-opacity="0.06"/><rect x="764" y="363.3" width="22" height="1" fill-opacity="0.14"/><rect x="992" y="249.2" width="35" height="1" fill-opacity="0.08"/><rect x="1007" y="273.3" width="15" height="2" fill-opacity="0.10"/><rect x="785" y="357.0" width="23" height="1" fill-opacity="0.06"/><rect x="1088" y="343.7" width="66" height="1" fill-opacity="0.09"/><rect x="949" y="214.8" width="67" height="1" fill-opacity="0.07"/><rect x="679" y="312.8" width="62" height="2" fill-opacity="0.15"/><rect x="956" y="254.3" width="66" height="1" fill-opacity="0.07"/><rect x="955" y="362.1" width="52" height="1.5" fill-opacity="0.06"/><rect x="614" y="222.0" width="44" height="2" fill-opacity="0.11"/><rect x="843" y="323.4" width="67" height="1" fill-opacity="0.06"/><rect x="1066" y="192.9" width="69" height="1" fill-opacity="0.15"/><rect x="732" y="218.1" width="46" height="2" fill-opacity="0.08"/><rect x="1109" y="251.3" width="41" height="1" fill-opacity="0.05"/><rect x="1098" y="355.2" width="15" height="2" fill-opacity="0.13"/><rect x="704" y="285.1" width="17" height="1" fill-opacity="0.09"/><rect x="559" y="358.2" width="38" height="1" fill-opacity="0.16"/><rect x="648" y="271.4" width="15" height="1" fill-opacity="0.08"/><rect x="1024" y="248.9" width="45" height="1.5" fill-opacity="0.13"/><rect x="724" y="299.2" width="34" height="2" fill-opacity="0.15"/><rect x="877" y="265.2" width="28" height="2" fill-opacity="0.15"/><rect x="1074" y="230.8" width="62" height="1" fill-opacity="0.15"/><rect x="862" y="272.0" width="65" height="1.5" fill-opacity="0.13"/><rect x="875" y="231.1" width="23" height="1.5" fill-opacity="0.15"/><rect x="903" y="301.8" width="14" height="1" fill-opacity="0.10"/><rect x="1066" y="277.0" width="43" height="1" fill-opacity="0.09"/><rect x="772" y="306.0" width="42" height="2" fill-opacity="0.14"/><rect x="726" y="199.9" width="50" height="1" fill-opacity="0.06"/><rect x="703" y="359.8" width="39" height="1" fill-opacity="0.06"/><rect x="1013" y="231.0" width="59" height="1" fill-opacity="0.08"/><rect x="859" y="264.6" width="67" height="2" fill-opacity="0.10"/><rect x="724" y="216.5" width="51" height="1" fill-opacity="0.11"/><rect x="935" y="303.2" width="39" height="1" fill-opacity="0.08"/><rect x="996" y="309.9" width="54" height="1" fill-opacity="0.14"/><rect x="814" y="210.6" width="54" height="1" fill-opacity="0.05"/><rect x="917" y="357.3" width="40" height="2" fill-opacity="0.12"/><rect x="909" y="353.2" width="18" height="1" fill-opacity="0.12"/><rect x="708" y="235.4" width="36" height="1.5" fill-opacity="0.08"/><rect x="897" y="362.4" width="21" height="1" fill-opacity="0.13"/><rect x="775" y="266.3" width="36" height="1" fill-opacity="0.13"/><rect x="1078" y="289.6" width="50" height="2" fill-opacity="0.10"/><rect x="567" y="314.4" width="63" height="1" fill-opacity="0.10"/><rect x="894" y="230.4" width="21" height="2" fill-opacity="0.07"/><rect x="699" y="245.3" width="24" height="1" fill-opacity="0.12"/><rect x="1069" y="247.9" width="65" height="1.5" fill-opacity="0.08"/><rect x="982" y="358.4" width="33" height="2" fill-opacity="0.08"/><rect x="600" y="201.5" width="53" height="1" fill-opacity="0.06"/><rect x="1072" y="240.5" width="34" height="2" fill-opacity="0.10"/><rect x="574" y="202.2" width="34" height="2" fill-opacity="0.11"/><rect x="1065" y="227.7" width="58" height="1" fill-opacity="0.15"/><rect x="790" y="211.3" width="52" height="1.5" fill-opacity="0.13"/><rect x="782" y="292.6" width="15" height="1" fill-opacity="0.06"/><rect x="577" y="324.1" width="22" height="1.5" fill-opacity="0.11"/><rect x="875" y="327.8" width="66" height="1" fill-opacity="0.08"/><rect x="803" y="313.5" width="38" height="2" fill-opacity="0.06"/><rect x="688" y="223.9" width="65" height="1" fill-opacity="0.11"/><rect x="937" y="237.1" width="39" height="2" fill-opacity="0.06"/><rect x="988" y="277.2" width="28" height="1" fill-opacity="0.14"/><rect x="893" y="309.2" width="17" height="1" fill-opacity="0.13"/><rect x="867" y="232.9" width="37" height="2" fill-opacity="0.09"/><rect x="895" y="317.8" width="26" height="2" fill-opacity="0.08"/><rect x="1039" y="362.7" width="66" height="1.5" fill-opacity="0.12"/><rect x="670" y="243.2" width="62" height="2" fill-opacity="0.11"/><rect x="1036" y="319.3" width="25" height="1" fill-opacity="0.05"/><rect x="798" y="313.9" width="34" height="2" fill-opacity="0.10"/><rect x="664" y="266.2" width="15" height="1" fill-opacity="0.15"/><rect x="813" y="269.6" width="63" height="2" fill-opacity="0.10"/><rect x="830" y="308.6" width="59" height="1" fill-opacity="0.15"/><rect x="712" y="319.7" width="55" height="2" fill-opacity="0.15"/><rect x="914" y="266.1" width="27" height="1.5" fill-opacity="0.13"/><rect x="766" y="288.6" width="61" height="2" fill-opacity="0.09"/><rect x="892" y="235.4" width="26" height="1" fill-opacity="0.09"/><rect x="790" y="320.8" width="42" height="1" fill-opacity="0.06"/></g>
</g></g>
<rect x="550" y="40" width="570" height="458" fill="none" stroke="#000038" stroke-width="1.6"/>
<rect x="1125.5" y="182.8" width="41.5" height="312.2" fill="url(#cbar)"/>
<!-- panel b -->
<defs><clipPath id="bc"><rect x="101.3" y="615" width="641.4" height="421.8"/></clipPath></defs>
<g clip-path="url(#bc)">
<polyline points="101.5,884.6 117.5,850.0 133.5,894.0 149.5,860.6 165.5,856.5 181.5,846.8 197.5,885.7 213.5,841.6 229.5,843.7 245.5,863.8 261.5,822.6 277.5,788.2 293.5,825.8 309.5,806.0 325.5,806.0 341.5,791.4 357.5,831.0 373.5,815.3 389.5,825.1 405.5,881.1 421.5,811.8 437.5,756.6 453.5,760.1 469.5,786.2 485.5,778.9 501.5,777.4 517.5,754.5 533.5,743.4 549.5,757.6 565.5,723.2 581.5,795.5 597.5,774.3 613.5,799.7 629.5,806.0 645.5,774.7 661.5,815.3 677.5,765.3 693.5,757.6 709.5,801.4 725.5,789.3 741.5,783.0" fill="none" stroke="#b8f0b8" stroke-width="1.1" stroke-dasharray="1.1 7" stroke-linecap="round"/>
<polyline points="101.5,895.0 117.5,880.5 133.5,859.6 149.5,804.9 165.5,879.8 181.5,834.2 197.5,842.6 213.5,799.7 229.5,848.0 245.5,765.3 261.5,794.9 277.5,820.1 293.5,772.6 325.5,811.0 341.5,1007.6 357.5,1022.2 373.5,1023.9 389.5,1002.0 405.5,975.3 421.5,771.6 437.5,740.9 453.5,749.7 469.5,763.8 485.5,841.0 501.5,830.7 517.5,797.6 533.5,852.0 549.5,853.8 565.5,826.0 581.5,874.6 597.5,849.0 613.5,865.9 629.5,849.0 645.5,835.0 661.5,853.4 677.5,852.7 693.5,840.4 709.5,811.2 725.5,855.0 741.5,853.4" fill="none" stroke="#e8b0b0" stroke-width="1.1" stroke-dasharray="1.1 7" stroke-linecap="round"/>
<polyline points="101.5,791.0 117.5,794.5 133.5,816.4 149.5,862.0 165.5,848.0 181.5,798.2 197.5,824.7 213.5,819.1 229.5,824.1 245.5,757.0 261.5,716.7 277.5,771.6 293.5,733.0 309.5,799.7 325.5,701.7 341.5,997.2 357.5,1018.0 373.5,1009.3 389.5,1009.3 405.5,1002.4 421.5,945.7 437.5,713.2 453.5,634.6 469.5,656.3 485.5,752.4 501.5,747.2 517.5,823.9 549.5,737.2 565.5,701.3 597.5,742.0 613.5,798.0 629.5,754.5 645.5,742.0 661.5,790.3 677.5,836.8 693.5,820.0 709.5,866.9 725.5,870.0 741.5,848.1" fill="none" stroke="#000" stroke-width="1.9" stroke-dasharray="0.1 10.5" stroke-linecap="round"/>
<g fill="#000"><ellipse cx="101.5" cy="791.0" rx="5.4" ry="4.3"/><ellipse cx="117.5" cy="794.5" rx="5.4" ry="4.3"/><ellipse cx="133.5" cy="816.4" rx="5.4" ry="4.3"/><ellipse cx="149.5" cy="862.0" rx="5.4" ry="4.3"/><ellipse cx="165.5" cy="848.0" rx="5.4" ry="4.3"/><ellipse cx="181.5" cy="798.2" rx="5.4" ry="4.3"/><ellipse cx="197.5" cy="824.7" rx="5.4" ry="4.3"/><ellipse cx="213.5" cy="819.1" rx="5.4" ry="4.3"/><ellipse cx="229.5" cy="824.1" rx="5.4" ry="4.3"/><ellipse cx="245.5" cy="757.0" rx="5.4" ry="4.3"/><ellipse cx="261.5" cy="716.7" rx="5.4" ry="4.3"/><ellipse cx="277.5" cy="771.6" rx="5.4" ry="4.3"/><ellipse cx="293.5" cy="733.0" rx="5.4" ry="4.3"/><ellipse cx="309.5" cy="799.7" rx="5.4" ry="4.3"/><ellipse cx="325.5" cy="701.7" rx="5.4" ry="4.3"/><ellipse cx="341.5" cy="997.2" rx="5.4" ry="4.3"/><ellipse cx="357.5" cy="1018.0" rx="5.4" ry="4.3"/><ellipse cx="373.5" cy="1009.3" rx="5.4" ry="4.3"/><ellipse cx="389.5" cy="1009.3" rx="5.4" ry="4.3"/><ellipse cx="405.5" cy="1002.4" rx="5.4" ry="4.3"/><ellipse cx="421.5" cy="945.7" rx="5.4" ry="4.3"/><ellipse cx="437.5" cy="713.2" rx="5.4" ry="4.3"/><ellipse cx="453.5" cy="634.6" rx="5.4" ry="4.3"/><ellipse cx="469.5" cy="656.3" rx="5.4" ry="4.3"/><ellipse cx="485.5" cy="752.4" rx="5.4" ry="4.3"/><ellipse cx="501.5" cy="747.2" rx="5.4" ry="4.3"/><ellipse cx="517.5" cy="823.9" rx="5.4" ry="4.3"/><ellipse cx="549.5" cy="737.2" rx="5.4" ry="4.3"/><ellipse cx="565.5" cy="701.3" rx="5.4" ry="4.3"/><ellipse cx="597.5" cy="742.0" rx="5.4" ry="4.3"/><ellipse cx="613.5" cy="798.0" rx="5.4" ry="4.3"/><ellipse cx="629.5" cy="754.5" rx="5.4" ry="4.3"/><ellipse cx="645.5" cy="742.0" rx="5.4" ry="4.3"/><ellipse cx="661.5" cy="790.3" rx="5.4" ry="4.3"/><ellipse cx="677.5" cy="836.8" rx="5.4" ry="4.3"/><ellipse cx="693.5" cy="820.0" rx="5.4" ry="4.3"/><ellipse cx="709.5" cy="866.9" rx="5.4" ry="4.3"/><ellipse cx="725.5" cy="870.0" rx="5.4" ry="4.3"/><ellipse cx="741.5" cy="848.1" rx="5.4" ry="4.3"/></g>
<g fill="#d8000c" stroke="#5a0000" stroke-width="0.5"><polygon points="101.5,889.6 102.9,893.1 106.6,893.3 103.7,895.7 104.7,899.4 101.5,897.3 98.3,899.4 99.3,895.7 96.4,893.3 100.1,893.1"/><polygon points="117.5,875.1 118.9,878.6 122.6,878.8 119.7,881.2 120.7,884.9 117.5,882.8 114.3,884.9 115.3,881.2 112.4,878.8 116.1,878.6"/><polygon points="133.5,854.2 134.9,857.7 138.6,857.9 135.7,860.3 136.7,864.0 133.5,861.9 130.3,864.0 131.3,860.3 128.4,857.9 132.1,857.7"/><polygon points="149.5,799.5 150.9,803.0 154.6,803.2 151.7,805.6 152.7,809.3 149.5,807.2 146.3,809.3 147.3,805.6 144.4,803.2 148.1,803.0"/><polygon points="165.5,874.4 166.9,877.9 170.6,878.1 167.7,880.5 168.7,884.2 165.5,882.1 162.3,884.2 163.3,880.5 160.4,878.1 164.1,877.9"/><polygon points="181.5,828.8 182.9,832.3 186.6,832.5 183.7,834.9 184.7,838.6 181.5,836.5 178.3,838.6 179.3,834.9 176.4,832.5 180.1,832.3"/><polygon points="197.5,837.2 198.9,840.7 202.6,840.9 199.7,843.3 200.7,847.0 197.5,844.9 194.3,847.0 195.3,843.3 192.4,840.9 196.1,840.7"/><polygon points="213.5,794.3 214.9,797.8 218.6,798.0 215.7,800.4 216.7,804.1 213.5,802.0 210.3,804.1 211.3,800.4 208.4,798.0 212.1,797.8"/><polygon points="229.5,842.6 230.9,846.1 234.6,846.3 231.7,848.7 232.7,852.4 229.5,850.3 226.3,852.4 227.3,848.7 224.4,846.3 228.1,846.1"/><polygon points="245.5,759.9 246.9,763.4 250.6,763.6 247.7,766.0 248.7,769.7 245.5,767.6 242.3,769.7 243.3,766.0 240.4,763.6 244.1,763.4"/><polygon points="261.5,789.5 262.9,793.0 266.6,793.2 263.7,795.6 264.7,799.3 261.5,797.2 258.3,799.3 259.3,795.6 256.4,793.2 260.1,793.0"/><polygon points="277.5,814.7 278.9,818.2 282.6,818.4 279.7,820.8 280.7,824.5 277.5,822.4 274.3,824.5 275.3,820.8 272.4,818.4 276.1,818.2"/><polygon points="293.5,767.2 294.9,770.7 298.6,770.9 295.7,773.3 296.7,777.0 293.5,774.9 290.3,777.0 291.3,773.3 288.4,770.9 292.1,770.7"/><polygon points="325.5,805.6 326.9,809.1 330.6,809.3 327.7,811.7 328.7,815.4 325.5,813.3 322.3,815.4 323.3,811.7 320.4,809.3 324.1,809.1"/><polygon points="341.5,1002.2 342.9,1005.7 346.6,1005.9 343.7,1008.3 344.7,1012.0 341.5,1009.9 338.3,1012.0 339.3,1008.3 336.4,1005.9 340.1,1005.7"/><polygon points="357.5,1016.8 358.9,1020.3 362.6,1020.5 359.7,1022.9 360.7,1026.6 357.5,1024.5 354.3,1026.6 355.3,1022.9 352.4,1020.5 356.1,1020.3"/><polygon points="373.5,1018.5 374.9,1022.0 378.6,1022.2 375.7,1024.6 376.7,1028.3 373.5,1026.2 370.3,1028.3 371.3,1024.6 368.4,1022.2 372.1,1022.0"/><polygon points="389.5,996.6 390.9,1000.1 394.6,1000.3 391.7,1002.7 392.7,1006.4 389.5,1004.3 386.3,1006.4 387.3,1002.7 384.4,1000.3 388.1,1000.1"/><polygon points="405.5,969.9 406.9,973.4 410.6,973.6 407.7,976.0 408.7,979.7 405.5,977.6 402.3,979.7 403.3,976.0 400.4,973.6 404.1,973.4"/><polygon points="421.5,766.2 422.9,769.7 426.6,769.9 423.7,772.3 424.7,776.0 421.5,773.9 418.3,776.0 419.3,772.3 416.4,769.9 420.1,769.7"/><polygon points="437.5,735.5 438.9,739.0 442.6,739.2 439.7,741.6 440.7,745.3 437.5,743.2 434.3,745.3 435.3,741.6 432.4,739.2 436.1,739.0"/><polygon points="453.5,744.3 454.9,747.8 458.6,748.0 455.7,750.4 456.7,754.1 453.5,752.0 450.3,754.1 451.3,750.4 448.4,748.0 452.1,747.8"/><polygon points="469.5,758.4 470.9,761.9 474.6,762.1 471.7,764.5 472.7,768.2 469.5,766.1 466.3,768.2 467.3,764.5 464.4,762.1 468.1,761.9"/><polygon points="485.5,835.6 486.9,839.1 490.6,839.3 487.7,841.7 488.7,845.4 485.5,843.3 482.3,845.4 483.3,841.7 480.4,839.3 484.1,839.1"/><polygon points="501.5,825.3 502.9,828.8 506.6,829.0 503.7,831.4 504.7,835.1 501.5,833.0 498.3,835.1 499.3,831.4 496.4,829.0 500.1,828.8"/><polygon points="517.5,792.2 518.9,795.7 522.6,795.9 519.7,798.3 520.7,802.0 517.5,799.9 514.3,802.0 515.3,798.3 512.4,795.9 516.1,795.7"/><polygon points="533.5,846.6 534.9,850.1 538.6,850.3 535.7,852.7 536.7,856.4 533.5,854.3 530.3,856.4 531.3,852.7 528.4,850.3 532.1,850.1"/><polygon points="549.5,848.4 550.9,851.9 554.6,852.1 551.7,854.5 552.7,858.2 549.5,856.1 546.3,858.2 547.3,854.5 544.4,852.1 548.1,851.9"/><polygon points="565.5,820.6 566.9,824.1 570.6,824.3 567.7,826.7 568.7,830.4 565.5,828.3 562.3,830.4 563.3,826.7 560.4,824.3 564.1,824.1"/><polygon points="581.5,869.2 582.9,872.7 586.6,872.9 583.7,875.3 584.7,879.0 581.5,876.9 578.3,879.0 579.3,875.3 576.4,872.9 580.1,872.7"/><polygon points="597.5,843.6 598.9,847.1 602.6,847.3 599.7,849.7 600.7,853.4 597.5,851.3 594.3,853.4 595.3,849.7 592.4,847.3 596.1,847.1"/><polygon points="613.5,860.5 614.9,864.0 618.6,864.2 615.7,866.6 616.7,870.3 613.5,868.2 610.3,870.3 611.3,866.6 608.4,864.2 612.1,864.0"/><polygon points="629.5,843.6 630.9,847.1 634.6,847.3 631.7,849.7 632.7,853.4 629.5,851.3 626.3,853.4 627.3,849.7 624.4,847.3 628.1,847.1"/><polygon points="645.5,829.6 646.9,833.1 650.6,833.3 647.7,835.7 648.7,839.4 645.5,837.3 642.3,839.4 643.3,835.7 640.4,833.3 644.1,833.1"/><polygon points="661.5,848.0 662.9,851.5 666.6,851.7 663.7,854.1 664.7,857.8 661.5,855.7 658.3,857.8 659.3,854.1 656.4,851.7 660.1,851.5"/><polygon points="677.5,847.3 678.9,850.8 682.6,851.0 679.7,853.4 680.7,857.1 677.5,855.0 674.3,857.1 675.3,853.4 672.4,851.0 676.1,850.8"/><polygon points="693.5,835.0 694.9,838.5 698.6,838.7 695.7,841.1 696.7,844.8 693.5,842.7 690.3,844.8 691.3,841.1 688.4,838.7 692.1,838.5"/><polygon points="709.5,805.8 710.9,809.3 714.6,809.5 711.7,811.9 712.7,815.6 709.5,813.5 706.3,815.6 707.3,811.9 704.4,809.5 708.1,809.3"/><polygon points="725.5,849.6 726.9,853.1 730.6,853.3 727.7,855.7 728.7,859.4 725.5,857.3 722.3,859.4 723.3,855.7 720.4,853.3 724.1,853.1"/><polygon points="741.5,848.0 742.9,851.5 746.6,851.7 743.7,854.1 744.7,857.8 741.5,855.7 738.3,857.8 739.3,854.1 736.4,851.7 740.1,851.5"/></g>
<g fill="#00f000" stroke="#7af57a" stroke-width="1"><polygon points="101.5,879.2 95.8,888.6 107.2,888.6"/><polygon points="117.5,844.6 111.8,854.0 123.2,854.0"/><polygon points="133.5,888.6 127.8,898.0 139.2,898.0"/><polygon points="149.5,855.2 143.8,864.6 155.2,864.6"/><polygon points="165.5,851.1 159.8,860.5 171.2,860.5"/><polygon points="181.5,841.4 175.8,850.8 187.2,850.8"/><polygon points="197.5,880.3 191.8,889.8 203.2,889.8"/><polygon points="213.5,836.2 207.8,845.6 219.2,845.6"/><polygon points="229.5,838.3 223.8,847.8 235.2,847.8"/><polygon points="245.5,858.4 239.8,867.8 251.2,867.8"/><polygon points="261.5,817.2 255.8,826.6 267.2,826.6"/><polygon points="277.5,782.8 271.8,792.2 283.2,792.2"/><polygon points="293.5,820.4 287.8,829.8 299.2,829.8"/><polygon points="309.5,800.6 303.8,810.0 315.2,810.0"/><polygon points="325.5,800.6 319.8,810.0 331.2,810.0"/><polygon points="341.5,786.0 335.8,795.4 347.2,795.4"/><polygon points="357.5,825.6 351.8,835.0 363.2,835.0"/><polygon points="373.5,809.9 367.8,819.3 379.2,819.3"/><polygon points="389.5,819.7 383.8,829.1 395.2,829.1"/><polygon points="405.5,875.7 399.8,885.1 411.2,885.1"/><polygon points="421.5,806.4 415.8,815.8 427.2,815.8"/><polygon points="437.5,751.2 431.8,760.6 443.2,760.6"/><polygon points="453.5,754.7 447.8,764.1 459.2,764.1"/><polygon points="469.5,780.8 463.8,790.2 475.2,790.2"/><polygon points="485.5,773.5 479.8,782.9 491.2,782.9"/><polygon points="501.5,772.0 495.8,781.4 507.2,781.4"/><polygon points="517.5,749.1 511.8,758.5 523.2,758.5"/><polygon points="533.5,738.0 527.8,747.4 539.2,747.4"/><polygon points="549.5,752.2 543.8,761.6 555.2,761.6"/><polygon points="565.5,717.8 559.8,727.2 571.2,727.2"/><polygon points="581.5,790.1 575.8,799.5 587.2,799.5"/><polygon points="597.5,768.9 591.8,778.3 603.2,778.3"/><polygon points="613.5,794.3 607.8,803.8 619.2,803.8"/><polygon points="629.5,800.6 623.8,810.0 635.2,810.0"/><polygon points="645.5,769.3 639.8,778.8 651.2,778.8"/><polygon points="661.5,809.9 655.8,819.3 667.2,819.3"/><polygon points="677.5,759.9 671.8,769.3 683.2,769.3"/><polygon points="693.5,752.2 687.8,761.6 699.2,761.6"/><polygon points="709.5,796.0 703.8,805.4 715.2,805.4"/><polygon points="725.5,783.9 719.8,793.3 731.2,793.3"/><polygon points="741.5,777.6 735.8,787.0 747.2,787.0"/></g>
</g>
<!-- panel c -->
<defs><clipPath id="cc"><rect x="976" y="616.8" width="604.5" height="434.2"/></clipPath></defs>
<g clip-path="url(#cc)">
<line x1="976.6" y1="765.1" x2="1500" y2="1040" stroke="#333" stroke-width="1.2" stroke-dasharray="5 3 1.5 3"/>
<line x1="1303" y1="925.7" x2="1543.3" y2="1044.5" stroke="#555" stroke-width="1.2" stroke-dasharray="4 4"/>
<polyline points="976.5,935.1 1240,935.1 1250,940.6 1387,940.6" fill="none" stroke="#444" stroke-width="1.1" stroke-dasharray="5 4"/>
<line x1="1027" y1="716" x2="1122" y2="765" stroke="#666" stroke-width="0.8" stroke-dasharray="4 3"/>
<polyline points="977.8,766.9 979.5,778.0 984.0,795.0 990.0,788.0 997.0,778.0 1001.0,774.0 1004.7,790.0 1008.5,858.9 1011.5,840.0 1015.0,800.0 1019.5,780.7 1024.0,786.0" fill="none" stroke="#a3101e" stroke-width="1.4" stroke-linejoin="round" stroke-dasharray="5 3"/>
<polyline points="1024.0,785.8 1027.0,787.2 1030.0,789.4 1033.0,790.3 1036.0,792.5 1039.0,793.9 1042.0,795.0 1045.0,797.3 1048.0,798.2 1051.0,800.4 1054.0,801.4 1057.0,803.0 1060.0,805.2 1063.0,807.6 1066.0,807.9 1069.0,809.7 1072.0,812.1 1075.0,814.4 1078.0,815.2 1081.0,816.5 1084.0,819.4 1087.0,818.8 1090.0,822.4 1093.0,822.6 1096.0,823.8 1099.0,825.4 1102.0,827.5 1105.0,830.5 1108.0,830.3 1111.0,833.1 1114.0,834.9 1117.0,835.7 1120.0,837.8 1123.0,838.0 1126.0,839.5 1129.0,841.6 1132.0,844.7 1135.0,845.5 1138.0,846.8 1141.0,849.3 1144.0,850.5 1147.0,851.5 1150.0,854.9 1153.0,856.2 1156.0,856.1 1159.0,859.0 1162.0,860.4 1165.0,863.4 1168.0,864.4 1171.0,864.3 1174.0,868.7 1177.0,866.8" fill="none" stroke="#a3101e" stroke-width="1.2" stroke-linejoin="round" stroke-dasharray="5 2.5 1.5 2.5"/>
<polyline points="1180.0,869.7 1181.5,869.5 1183.0,869.9 1184.5,873.5 1186.0,874.8 1187.5,874.9 1189.0,875.3 1190.5,877.2 1192.0,876.5 1193.5,875.4 1195.0,878.9 1196.5,880.6 1198.0,879.3 1199.5,878.3 1201.0,879.8 1202.5,880.1 1204.0,881.2 1205.5,883.4 1207.0,882.5 1208.5,885.9 1210.0,888.2 1211.5,886.0 1213.0,887.3 1214.5,891.6 1216.0,887.8 1217.5,888.9 1219.0,891.9 1220.5,889.1 1222.0,892.2 1223.5,896.8 1225.0,894.8 1226.5,907.8 1228.0,898.2 1229.5,899.2 1231.0,897.2 1232.5,903.9 1234.0,897.5 1235.5,902.9 1237.0,898.7 1238.5,912.0 1240.0,903.8 1241.5,901.8 1243.0,903.5 1244.5,908.1 1246.0,905.9 1247.5,903.6 1249.0,906.5 1250.5,911.4 1252.0,905.5 1253.5,910.5 1255.0,919.5 1256.5,916.1 1258.0,914.5 1259.5,912.4 1261.0,916.8 1262.5,917.8 1264.0,913.5 1265.5,921.4 1267.0,920.6 1268.5,920.8 1270.0,919.5 1271.5,921.5 1273.0,918.6 1274.5,926.3 1276.0,927.0 1277.5,928.0 1279.0,921.4 1280.5,922.0 1282.0,927.2 1283.5,930.3 1285.0,929.1 1286.5,923.7 1288.0,933.2 1289.5,932.2 1291.0,926.6 1292.5,928.9 1294.0,936.7 1295.5,931.0 1297.0,935.4 1298.5,929.2" fill="none" stroke="#a3101e" stroke-width="1.3" stroke-linejoin="round" stroke-dasharray="4 2"/>
<polyline points="1284.0,930.6 1284.9,924.2 1285.8,932.1 1286.7,926.9 1287.6,941.0 1288.5,930.4 1289.4,933.3 1290.3,933.2 1291.2,927.6 1292.1,928.8 1293.0,931.8 1293.9,930.7 1294.8,935.5 1295.7,931.8 1296.6,936.3 1297.5,936.8 1298.4,933.7 1299.3,929.5 1300.2,945.1 1301.1,931.7 1302.0,937.1 1302.9,933.9 1303.8,936.3 1304.7,932.7 1305.6,934.4 1306.5,939.5 1307.4,938.0 1308.3,941.6 1309.2,939.3 1310.1,938.8 1311.0,938.6 1311.9,939.3 1312.8,941.7 1313.7,944.2 1314.6,941.2 1315.5,944.1 1316.4,938.1 1317.3,938.0 1318.2,938.4 1319.1,945.2 1320.0,940.0 1320.9,944.9 1321.8,947.3 1322.7,941.8 1323.6,943.8 1324.5,949.5 1325.4,942.4 1326.3,946.0 1327.2,943.5 1328.1,959.7 1329.0,955.1 1329.9,948.6 1330.8,944.0 1331.7,950.9 1332.6,945.1 1333.5,945.0 1334.4,947.4 1335.3,949.2 1336.2,953.2 1337.1,947.5 1338.0,951.7 1338.9,960.3 1339.8,966.5 1340.7,953.4 1341.6,948.7 1342.5,948.8 1343.4,952.6 1344.3,953.8 1345.2,951.5 1346.1,954.1 1347.0,950.6 1347.9,950.3 1348.8,952.9 1349.7,957.2" fill="none" stroke="#b00010" stroke-width="1.1" stroke-linejoin="round" />
<polyline points="1349.0,954.7 1349.6,957.5 1350.2,951.2 1350.8,955.6 1351.4,955.2 1352.0,952.5 1352.6,955.2 1353.2,958.6 1353.8,956.2 1354.4,960.2 1355.0,959.2 1355.6,957.8 1356.2,955.6 1356.8,954.1 1357.4,959.1 1358.0,954.7 1358.6,960.3 1359.2,959.1 1359.8,955.9 1360.4,957.8 1361.0,957.9 1361.6,962.2 1362.2,959.0 1362.8,962.6 1363.4,962.4 1364.0,959.0 1364.6,957.0 1365.2,955.6 1365.8,956.5 1366.4,960.4 1367.0,958.0 1367.6,960.5 1368.2,961.7 1368.8,963.7 1369.4,959.4 1370.0,958.2 1370.6,962.3 1371.2,964.0 1371.8,962.6 1372.4,964.2 1373.0,962.1 1373.6,964.8 1374.2,964.9 1374.8,965.6 1375.4,964.2 1376.0,959.0 1376.6,961.9 1377.2,965.8 1377.8,964.4 1378.4,965.0 1379.0,959.7 1379.6,965.9 1380.2,964.3 1380.8,960.8 1381.4,962.4 1382.0,962.7 1382.6,962.4 1383.2,968.8 1383.8,964.2 1384.4,966.8 1385.0,966.4 1385.6,962.3 1386.2,963.9 1386.8,964.5 1387.4,962.3 1388.0,964.6 1388.6,968.1 1389.2,965.1 1389.8,966.7 1390.4,964.1 1391.0,964.9 1391.6,975.9 1392.2,970.2 1392.8,967.4 1393.4,965.7 1394.0,965.9 1394.6,965.5 1395.2,972.2 1395.8,971.3 1396.4,972.0 1397.0,967.0 1397.6,971.6 1398.2,969.4 1398.8,968.1 1399.4,968.6 1400.0,979.3 1400.6,972.8 1401.2,973.7 1401.8,973.6 1402.4,969.5 1403.0,974.7 1403.6,969.7 1404.2,969.1 1404.8,967.9 1405.4,969.5 1406.0,969.3 1406.6,971.6 1407.2,970.6 1407.8,974.8 1408.4,972.9 1409.0,975.6 1409.6,973.9 1410.2,974.2 1410.8,974.5 1411.4,970.9 1412.0,976.1 1412.6,972.6 1413.2,971.4 1413.8,976.9 1414.4,974.5 1415.0,973.8 1415.6,970.8 1416.2,971.3 1416.8,973.8 1417.4,977.2 1418.0,973.6 1418.6,971.7 1419.2,973.1 1419.8,972.4 1420.4,975.1 1421.0,976.7 1421.6,974.2 1422.2,974.0 1422.8,971.6 1423.4,979.0 1424.0,975.4 1424.6,978.4 1425.2,973.8 1425.8,975.0 1426.4,979.6 1427.0,981.6 1427.6,977.9 1428.2,976.1 1428.8,972.5 1429.4,980.0 1430.0,979.6 1430.6,974.9 1431.2,974.3 1431.8,978.6 1432.4,979.1 1433.0,979.5 1433.6,978.0 1434.2,980.0 1434.8,981.2 1435.4,976.4 1436.0,976.1 1436.6,979.8 1437.2,974.9 1437.8,979.2 1438.4,976.4 1439.0,974.9 1439.6,978.6 1440.2,980.3 1440.8,979.6 1441.4,978.3 1442.0,982.5 1442.6,977.7 1443.2,983.5 1443.8,980.7 1444.4,986.6 1445.0,980.0 1445.6,983.7 1446.2,982.5 1446.8,987.4 1447.4,983.7 1448.0,985.1 1448.6,985.1 1449.2,989.9 1449.8,992.0 1450.4,986.4 1451.0,988.8 1451.6,993.7 1452.2,989.8 1452.8,995.0 1453.4,988.2 1454.0,991.5 1454.6,996.0 1455.2,997.5 1455.8,992.7 1456.4,998.1 1457.0,991.5 1457.6,994.8 1458.2,995.0 1458.8,993.0 1459.4,996.3 1460.0,995.1 1460.6,996.3 1461.2,1001.8 1461.8,999.3 1462.4,999.9 1463.0,1003.7 1463.6,999.5 1464.2,997.1 1464.8,1003.6 1465.4,997.6 1466.0,998.1 1466.6,999.8 1467.2,1005.2 1467.8,1000.4 1468.4,1003.4 1469.0,1004.5 1469.6,1007.8 1470.2,1006.5 1470.8,1010.7 1471.4,1003.5 1472.0,1007.5 1472.6,1002.1 1473.2,1004.3 1473.8,1002.1 1474.4,1006.7 1475.0,1007.2 1475.6,1003.9 1476.2,1004.4 1476.8,1002.4 1477.4,1008.0 1478.0,1002.7 1478.6,1006.9 1479.2,1010.5 1479.8,1010.8 1480.4,1003.7 1481.0,1007.0 1481.6,1006.6 1482.2,1006.4 1482.8,1008.4 1483.4,1009.8 1484.0,1004.0 1484.6,1005.4 1485.2,1006.1 1485.8,1004.7 1486.4,1005.1 1487.0,1010.2 1487.6,1005.7 1488.2,1011.1 1488.8,1005.0 1489.4,1008.4 1490.0,1004.0 1490.6,1009.7 1491.2,1010.5 1491.8,1005.5 1492.4,1004.7 1493.0,1007.9 1493.6,1006.2 1494.2,1006.8 1494.8,1009.5 1495.4,1004.1 1496.0,1008.2 1496.6,1006.2 1497.2,1004.9 1497.8,1008.1 1498.4,1009.2 1499.0,1008.7 1499.6,1005.8 1500.2,1009.7 1500.8,1003.9 1501.4,1006.5 1502.0,1008.5 1502.6,1004.7 1503.2,1006.7 1503.8,1005.9 1504.4,1005.9 1505.0,1006.3 1505.6,1010.3 1506.2,1006.3 1506.8,1009.3 1507.4,1003.5 1508.0,1006.9 1508.6,1006.7 1509.2,1007.2 1509.8,1003.6 1510.4,1008.6 1511.0,1004.2 1511.6,1006.5 1512.2,1004.7 1512.8,1007.7 1513.4,1004.4 1514.0,1010.0 1514.6,1005.2 1515.2,1011.1 1515.8,1007.5 1516.4,1011.0 1517.0,1010.9 1517.6,1010.2 1518.2,1009.9 1518.8,1006.9 1519.4,1010.3 1520.0,1005.4 1520.6,1007.8 1521.2,1004.7 1521.8,1009.5 1522.4,1004.0 1523.0,1009.8 1523.6,1010.4 1524.2,1008.5 1524.8,1008.8 1525.4,1007.1 1526.0,1007.2 1526.6,1007.4 1527.2,1004.0 1527.8,1007.7 1528.4,1009.9 1529.0,1007.5 1529.6,1007.6 1530.2,1004.9 1530.8,1004.6 1531.4,1007.9 1532.0,1009.0 1532.6,1009.7 1533.2,1008.0 1533.8,1007.9 1534.4,1011.5 1535.0,1010.8 1535.6,1009.8 1536.2,1005.5 1536.8,1007.9 1537.4,1011.3 1538.0,1010.3 1538.6,1004.5 1539.2,1010.0 1539.8,1011.2 1540.4,1010.7 1541.0,1008.4 1541.6,1006.2 1542.2,1008.8 1542.8,1005.3 1543.4,1006.5 1544.0,1010.9 1544.6,1007.0 1545.2,1006.8 1545.8,1011.2 1546.4,1013.3 1547.0,1011.2 1547.6,1007.6 1548.2,1012.0 1548.8,1013.6 1549.4,1015.3 1550.0,1010.5 1550.6,1011.4 1551.2,1014.0 1551.8,1014.8 1552.4,1013.6 1553.0,1013.4 1553.6,1014.0 1554.2,1010.4 1554.8,1012.8 1555.4,1016.8 1556.0,1011.6 1556.6,1014.6 1557.2,1011.1 1557.8,1012.3 1558.4,1015.4 1559.0,1015.9 1559.6,1012.2 1560.2,1013.3 1560.8,1012.3 1561.4,1018.8 1562.0,1015.2 1562.6,1012.2 1563.2,1016.8 1563.8,1017.5 1564.4,1020.0 1565.0,1014.6 1565.6,1013.1 1566.2,1016.1 1566.8,1013.5 1567.4,1013.2 1568.0,1020.8 1568.6,1015.0 1569.2,1017.6 1569.8,1020.1 1570.4,1016.2 1571.0,1014.3 1571.6,1020.3 1572.2,1014.2 1572.8,1020.2 1573.4,1020.3 1574.0,1016.3 1574.6,1016.5 1575.2,1017.5 1575.8,1020.5 1576.4,1020.7 1577.0,1019.6 1577.6,1021.6 1578.2,1017.5 1578.8,1023.3 1579.4,1026.6 1580.0,1017.7 1580.6,1023.5" fill="none" stroke="#f00000" stroke-width="1.2" stroke-linejoin="round" />
<polyline points="976.6,701.7 982.2,696.5 988.2,744.3 994.3,702.6 999.5,740.8 1008.2,694.8 1016.0,735.6 1021.2,700.8 1027.3,716.5 1048.2,732.1 1067.3,741.7 1088.1,752.1 1107.2,753.8 1121.1,763.4 1128.0,761.6 1136.8,783.4 1143.7,779.9 1154.1,792.9 1160.2,783.4 1164.5,786.0 1168.9,777.3 1173.2,792.9 1181.9,802.5 1190.6,796.4 1200.0,801.6" fill="none" stroke="#a3101e" stroke-width="1.3" stroke-linejoin="round" />
<polyline points="1200.0,801.0 1201.3,799.3 1202.6,799.7 1203.9,800.0 1205.2,802.1 1206.5,802.7 1207.8,803.8 1209.1,804.4 1210.4,804.0 1211.7,806.3 1213.0,808.4 1214.3,806.3 1215.6,811.7" fill="none" stroke="#a3101e" stroke-width="1.3" stroke-linejoin="round" />
<polyline points="1215.0,811.4 1215.6,811.4 1216.2,812.0 1216.8,808.6 1217.4,811.1 1218.0,814.7 1218.6,810.2 1219.2,816.7 1219.8,811.5 1220.4,822.8 1221.0,817.9 1221.6,818.6 1222.2,819.5 1222.8,819.3 1223.4,816.5 1224.0,814.3 1224.6,816.8 1225.2,817.8 1225.8,823.2 1226.4,822.6 1227.0,815.7 1227.6,819.6 1228.2,819.1 1228.8,821.1 1229.4,834.9 1230.0,823.3 1230.6,824.0 1231.2,816.8 1231.8,821.8 1232.4,819.0 1233.0,820.8 1233.6,820.1 1234.2,820.6 1234.8,825.3 1235.4,819.1 1236.0,819.0 1236.6,826.0 1237.2,825.5 1237.8,823.2 1238.4,840.1 1239.0,819.2 1239.6,822.2 1240.2,825.3 1240.8,830.2 1241.4,825.8 1242.0,830.2 1242.6,829.7 1243.2,826.4 1243.8,833.8 1244.4,833.3 1245.0,830.1 1245.6,829.6 1246.2,837.5 1246.8,829.2 1247.4,836.7 1248.0,830.2 1248.6,832.2 1249.2,836.6 1249.8,834.8" fill="none" stroke="#d4000c" stroke-width="1.5" stroke-linejoin="round" />
<polyline points="1249.0,842.3 1249.3,831.2 1249.7,831.6 1250.0,843.7 1250.3,840.8 1250.6,834.2 1251.0,833.4 1251.3,846.2 1251.6,843.3 1252.0,839.9 1252.3,839.8 1252.6,842.1 1253.0,844.3 1253.3,840.3 1253.6,844.5 1253.9,837.6 1254.3,846.2 1254.6,843.8 1254.9,843.6 1255.3,840.6 1255.6,839.3 1255.9,844.9 1256.3,842.9 1256.6,840.2 1256.9,842.8 1257.2,843.5 1257.6,837.0 1257.9,844.9 1258.2,841.1 1258.6,835.1 1258.9,836.7 1259.2,847.0 1259.6,835.9 1259.9,841.7 1260.2,841.4 1260.5,845.5 1260.9,840.0 1261.2,837.4 1261.5,839.8 1261.9,836.2 1262.2,846.7 1262.5,848.8 1262.9,840.2 1263.2,839.2 1263.5,837.6 1263.8,847.0 1264.2,837.5 1264.5,839.8 1264.8,836.3 1265.2,845.3 1265.5,840.8 1265.8,837.6 1266.2,839.3 1266.5,845.4 1266.8,840.8 1267.1,841.8 1267.5,845.6 1267.8,845.8 1268.1,839.6 1268.5,840.2 1268.8,834.6 1269.1,838.3 1269.5,838.6 1269.8,840.3 1270.1,843.3 1270.4,847.0 1270.8,835.7 1271.1,847.1 1271.4,837.2 1271.8,848.5 1272.1,848.3 1272.4,836.8 1272.8,839.2 1273.1,840.9 1273.4,848.5 1273.7,839.0 1274.1,845.0 1274.4,846.0 1274.7,847.8 1275.1,840.2 1275.4,844.8 1275.7,843.8 1276.1,845.5 1276.4,841.5 1276.7,854.5 1277.0,840.7 1277.4,845.6 1277.7,864.0 1278.0,845.6 1278.4,848.4 1278.7,844.8 1279.0,848.3 1279.4,859.6 1279.7,849.5 1280.0,845.0 1280.3,847.6 1280.7,865.0 1281.0,849.6 1281.3,852.9 1281.7,848.0 1282.0,852.1 1282.3,847.9 1282.7,849.6 1283.0,846.4 1283.3,848.1 1283.6,846.5 1284.0,856.0 1284.3,853.8 1284.6,847.7 1285.0,851.5 1285.3,866.4 1285.6,855.8 1286.0,845.0 1286.3,844.6 1286.6,856.9 1286.9,853.6 1287.3,857.2 1287.6,853.5 1287.9,854.7 1288.3,854.7 1288.6,854.7 1288.9,853.6 1289.3,846.8 1289.6,858.6 1289.9,851.6 1290.2,857.3 1290.6,850.5 1290.9,852.9 1291.2,853.2 1291.6,870.5 1291.9,848.4 1292.2,858.8 1292.6,860.4 1292.9,848.7 1293.2,856.5 1293.5,861.8 1293.9,850.0 1294.2,852.1 1294.5,861.4 1294.9,851.3 1295.2,851.0 1295.5,863.8 1295.9,853.5 1296.2,865.6 1296.5,860.1 1296.8,856.1 1297.2,860.4 1297.5,863.6 1297.8,864.2 1298.2,863.1 1298.5,859.5 1298.8,861.7 1299.2,863.6 1299.5,853.2 1299.8,860.2 1300.1,861.8 1300.5,863.6 1300.8,861.7 1301.1,858.9 1301.5,864.0 1301.8,864.1 1302.1,872.5 1302.5,863.3 1302.8,858.6 1303.1,867.2 1303.4,862.4 1303.8,860.2 1304.1,859.7 1304.4,862.8 1304.8,865.6 1305.1,855.1 1305.4,860.8 1305.8,866.1 1306.1,856.0 1306.4,866.3 1306.7,863.3 1307.1,867.1 1307.4,865.0 1307.7,856.6 1308.1,866.8 1308.4,866.3 1308.7,859.6 1309.1,865.6 1309.4,859.5 1309.7,866.8 1310.0,857.9 1310.4,867.4 1310.7,865.0 1311.0,869.1 1311.4,863.9 1311.7,860.2 1312.0,860.2 1312.4,862.8 1312.7,863.4 1313.0,875.2 1313.3,858.8 1313.7,868.9 1314.0,866.5 1314.3,870.5 1314.7,872.0 1315.0,865.4 1315.3,862.6 1315.7,864.9 1316.0,869.5 1316.3,872.3 1316.6,860.2 1317.0,860.2 1317.3,867.3 1317.6,866.1 1318.0,883.0 1318.3,865.6 1318.6,873.1 1319.0,868.0 1319.3,873.5 1319.6,866.3 1319.9,863.5 1320.3,874.7 1320.6,862.4 1320.9,866.8 1321.3,874.4 1321.6,863.3 1321.9,872.3 1322.3,882.2 1322.6,873.4 1322.9,872.7 1323.2,871.8 1323.6,865.7 1323.9,867.9 1324.2,871.2 1324.6,868.2 1324.9,886.3 1325.2,882.4 1325.6,868.8 1325.9,877.6 1326.2,868.2 1326.5,867.9 1326.9,878.0 1327.2,873.2 1327.5,878.3 1327.9,876.0 1328.2,882.9 1328.5,875.6 1328.9,880.0 1329.2,874.2 1329.5,872.6 1329.8,873.7 1330.2,876.1 1330.5,881.8 1330.8,896.9 1331.2,879.2 1331.5,876.9 1331.8,874.3 1332.2,876.0 1332.5,884.6 1332.8,873.0 1333.1,895.9 1333.5,876.1 1333.8,872.7 1334.1,877.3 1334.5,873.1 1334.8,880.2 1335.1,879.3 1335.5,876.7 1335.8,875.9 1336.1,884.5 1336.4,875.0 1336.8,882.8 1337.1,878.5 1337.4,883.2 1337.8,885.9 1338.1,890.3 1338.4,881.0 1338.8,876.5 1339.1,880.3 1339.4,887.5 1339.7,876.4 1340.1,882.7 1340.4,880.1 1340.7,887.7 1341.1,879.0 1341.4,894.9 1341.7,883.1 1342.1,879.0 1342.4,888.2 1342.7,881.7 1343.0,882.5 1343.4,878.3 1343.7,890.2 1344.0,884.5 1344.4,899.6 1344.7,880.9 1345.0,882.9 1345.4,891.6 1345.7,885.6" fill="none" stroke="#f40008" stroke-width="1.9" stroke-linejoin="round" />
<polyline points="1225.0,814.7 1226.1,820.0 1227.2,816.3 1228.3,829.1 1229.4,820.9 1230.5,815.8 1231.6,818.2 1232.7,821.8 1233.8,825.3 1234.9,826.7 1236.0,822.4 1237.1,827.9 1238.2,823.3 1239.3,828.2 1240.4,822.2 1241.5,825.6 1242.6,831.7 1243.7,833.3 1244.8,824.8 1245.9,838.1 1247.0,830.2 1248.1,836.6 1249.2,847.0 1250.3,844.5 1251.4,845.3 1252.5,846.3 1253.6,845.3 1254.7,859.0 1255.8,838.1 1256.9,838.2 1258.0,846.8 1259.1,837.9 1260.2,840.3 1261.3,838.4 1262.4,838.9 1263.5,847.2 1264.6,838.1 1265.7,839.3 1266.8,836.3 1267.9,840.0 1269.0,849.4 1270.1,845.7 1271.2,842.7 1272.3,838.5 1273.4,842.6 1274.5,845.3 1275.6,842.0 1276.7,841.5 1277.8,844.4 1278.9,840.1 1280.0,852.0 1281.1,848.7 1282.2,845.8 1283.3,846.6 1284.4,861.0 1285.5,859.6 1286.6,850.5 1287.7,846.8 1288.8,858.7 1289.9,848.7 1291.0,852.0 1292.1,856.2 1293.2,859.5 1294.3,859.1 1295.4,860.0 1296.5,861.0 1297.6,857.9 1298.7,852.0 1299.8,860.4 1300.9,866.0 1302.0,859.4 1303.1,865.8 1304.2,859.7 1305.3,861.2 1306.4,859.5 1307.5,863.4 1308.6,860.7 1309.7,868.1 1310.8,863.2 1311.9,857.6 1313.0,881.9 1314.1,862.9 1315.2,870.2 1316.3,862.2 1317.4,877.6 1318.5,867.9 1319.6,873.2 1320.7,869.1 1321.8,869.7 1322.9,872.8 1324.0,869.3 1325.1,870.1 1326.2,875.3 1327.3,868.6 1328.4,873.4 1329.5,876.6 1330.6,882.7 1331.7,876.6 1332.8,884.8 1333.9,879.6 1335.0,875.7 1336.1,887.3 1337.2,876.2 1338.3,884.6 1339.4,889.1 1340.5,882.2 1341.6,881.0 1342.7,884.1 1343.8,880.1 1344.9,885.9" fill="none" stroke="#8c0010" stroke-width="0.8" stroke-linejoin="round" />
<polygon points="1333,871 1343,877 1343,896 1338,900 1333,893" fill="#f00000"/>
<polyline points="1344.0,888.6 1344.4,876.3 1344.8,886.4 1345.2,886.2 1345.6,884.6 1346.0,884.1 1346.4,883.6 1346.8,882.9 1347.2,884.3 1347.6,884.8 1348.0,883.1 1348.4,886.1 1348.8,883.6 1349.2,885.6 1349.6,886.3 1350.0,888.4 1350.4,885.6 1350.8,886.0 1351.2,885.9 1351.6,888.8 1352.0,886.7 1352.4,887.2 1352.8,889.5 1353.2,890.1 1353.6,888.9 1354.0,886.7 1354.4,890.3 1354.8,890.7 1355.2,888.4 1355.6,891.4 1356.0,891.5 1356.4,889.4 1356.8,888.9 1357.2,891.8 1357.6,891.7 1358.0,889.3 1358.4,889.5 1358.8,890.2 1359.2,889.6 1359.6,891.0 1360.0,889.8 1360.4,893.2 1360.8,891.0 1361.2,891.4 1361.6,890.5 1362.0,892.0 1362.4,893.7 1362.8,892.1 1363.2,891.7 1363.6,894.9 1364.0,892.2 1364.4,894.8 1364.8,896.0 1365.2,896.2 1365.6,893.3 1366.0,893.1 1366.4,893.9 1366.8,895.5 1367.2,894.2 1367.6,894.3 1368.0,894.1 1368.4,896.1 1368.8,897.2 1369.2,897.0 1369.6,895.7 1370.0,895.0 1370.4,898.4 1370.8,897.8 1371.2,897.6 1371.6,897.6 1372.0,896.0 1372.4,896.9 1372.8,899.2 1373.2,898.1 1373.6,899.9 1374.0,900.5 1374.4,902.2 1374.8,900.2 1375.2,899.4 1375.6,900.8 1376.0,901.7 1376.4,901.0 1376.8,899.1 1377.2,901.9 1377.6,897.6 1378.0,900.2 1378.4,899.1 1378.8,902.5 1379.2,903.6 1379.6,903.3 1380.0,902.4 1380.4,906.7 1380.8,904.3 1381.2,901.4 1381.6,902.2 1382.0,902.2 1382.4,902.9 1382.8,905.4 1383.2,905.4 1383.6,905.8 1384.0,904.1 1384.4,907.2 1384.8,907.3 1385.2,906.8 1385.6,906.5 1386.0,904.4 1386.4,906.2 1386.8,908.5 1387.2,904.9 1387.6,908.5 1388.0,907.7 1388.4,908.3 1388.8,906.8 1389.2,907.5 1389.6,907.0 1390.0,906.9 1390.4,909.4 1390.8,907.8 1391.2,908.8 1391.6,908.6 1392.0,911.0 1392.4,909.9 1392.8,911.1 1393.2,911.1 1393.6,910.9 1394.0,910.2 1394.4,912.0 1394.8,909.9 1395.2,909.7 1395.6,910.2 1396.0,912.2 1396.4,909.9 1396.8,911.6 1397.2,910.5 1397.6,910.1 1398.0,913.4 1398.4,913.4 1398.8,913.0 1399.2,912.9 1399.6,911.8 1400.0,911.2 1400.4,914.1 1400.8,915.5 1401.2,912.8 1401.6,916.7 1402.0,915.7 1402.4,913.1 1402.8,916.1 1403.2,913.4 1403.6,916.4 1404.0,914.5 1404.4,916.8 1404.8,915.0 1405.2,915.2 1405.6,912.1 1406.0,916.7 1406.4,917.2 1406.8,918.4 1407.2,916.7 1407.6,916.1 1408.0,915.4 1408.4,915.9 1408.8,919.5 1409.2,915.8 1409.6,916.6 1410.0,916.0 1410.4,919.7 1410.8,918.1 1411.2,919.2 1411.6,918.4 1412.0,918.6 1412.4,920.4 1412.8,917.7 1413.2,919.0 1413.6,918.8 1414.0,917.8 1414.4,919.6 1414.8,921.6 1415.2,922.0 1415.6,920.7 1416.0,918.5 1416.4,920.9 1416.8,920.9 1417.2,920.7 1417.6,920.2 1418.0,925.0 1418.4,922.2 1418.8,919.9 1419.2,921.3 1419.6,921.7 1420.0,922.6 1420.4,920.2 1420.8,924.9 1421.2,920.6 1421.6,921.6 1422.0,923.4 1422.4,923.3 1422.8,922.0 1423.2,921.6 1423.6,924.5 1424.0,923.7 1424.4,924.1 1424.8,924.9 1425.2,926.3 1425.6,927.9 1426.0,922.9 1426.4,924.8 1426.8,928.3 1427.2,927.4 1427.6,927.6 1428.0,924.7 1428.4,923.6 1428.8,924.9 1429.2,928.0 1429.6,929.3 1430.0,929.4 1430.4,929.8 1430.8,925.7 1431.2,926.9 1431.6,929.1 1432.0,926.0 1432.4,929.8 1432.8,927.0 1433.2,926.5 1433.6,930.8 1434.0,931.7 1434.4,928.0 1434.8,929.3 1435.2,930.3 1435.6,927.2 1436.0,932.0 1436.4,930.7 1436.8,931.7 1437.2,928.8 1437.6,931.2 1438.0,933.0 1438.4,928.6 1438.8,929.6 1439.2,934.0 1439.6,929.3 1440.0,934.1 1440.4,931.8 1440.8,930.6 1441.2,932.2 1441.6,933.7 1442.0,932.2 1442.4,935.7 1442.8,931.0 1443.2,933.0 1443.6,934.5 1444.0,936.9 1444.4,936.6 1444.8,935.8 1445.2,935.8 1445.6,933.7 1446.0,933.8 1446.4,935.6 1446.8,935.7 1447.2,937.4 1447.6,937.6 1448.0,937.0 1448.4,935.2 1448.8,938.8 1449.2,937.9 1449.6,938.6 1450.0,937.3 1450.4,936.6 1450.8,937.1 1451.2,936.9 1451.6,940.9 1452.0,937.5 1452.4,936.9 1452.8,941.1 1453.2,938.6 1453.6,939.4 1454.0,937.3 1454.4,938.3 1454.8,941.0 1455.2,942.4 1455.6,942.5 1456.0,937.8 1456.4,940.9 1456.8,939.8 1457.2,940.4 1457.6,938.5 1458.0,943.6 1458.4,942.1 1458.8,940.3 1459.2,940.2 1459.6,940.3 1460.0,944.4 1460.4,940.7 1460.8,945.3 1461.2,940.4 1461.6,945.2 1462.0,941.1 1462.4,943.7 1462.8,944.5 1463.2,942.2 1463.6,945.5 1464.0,943.7 1464.4,943.5 1464.8,941.2 1465.2,943.9 1465.6,945.6 1466.0,949.8 1466.4,945.8 1466.8,943.1 1467.2,947.1 1467.6,943.7 1468.0,944.2 1468.4,944.1 1468.8,946.2 1469.2,947.4 1469.6,948.0 1470.0,946.3 1470.4,946.0 1470.8,949.2 1471.2,946.7 1471.6,950.8 1472.0,947.0 1472.4,951.0 1472.8,945.8 1473.2,949.7 1473.6,948.2 1474.0,947.7 1474.4,949.0 1474.8,947.1 1475.2,950.2 1475.6,952.6 1476.0,948.2 1476.4,951.8 1476.8,952.9 1477.2,949.3 1477.6,951.0 1478.0,950.3 1478.4,951.2 1478.8,954.0 1479.2,953.2 1479.6,952.9 1480.0,954.3 1480.4,952.8 1480.8,955.1 1481.2,953.6 1481.6,951.6 1482.0,952.9 1482.4,951.7 1482.8,954.5 1483.2,956.7 1483.6,954.4 1484.0,956.3 1484.4,953.1 1484.8,956.5 1485.2,953.9 1485.6,957.3 1486.0,956.3 1486.4,955.2 1486.8,957.8 1487.2,958.1 1487.6,957.7 1488.0,954.4 1488.4,959.3 1488.8,953.9 1489.2,964.3 1489.6,955.0 1490.0,954.9 1490.4,958.5 1490.8,956.7 1491.2,959.1 1491.6,958.9 1492.0,959.9 1492.4,955.7 1492.8,957.1 1493.2,961.5 1493.6,958.0 1494.0,957.0 1494.4,957.3 1494.8,957.8 1495.2,957.8 1495.6,960.0 1496.0,959.4 1496.4,962.8 1496.8,959.0 1497.2,963.0 1497.6,959.7 1498.0,959.9 1498.4,958.8 1498.8,961.1 1499.2,964.9 1499.6,962.9 1500.0,962.5 1500.4,965.2 1500.8,963.9 1501.2,961.8 1501.6,965.8 1502.0,962.5 1502.4,961.3 1502.8,960.7 1503.2,966.3 1503.6,964.7 1504.0,962.7 1504.4,962.2 1504.8,966.3 1505.2,962.2 1505.6,964.0 1506.0,965.5 1506.4,972.3 1506.8,967.7 1507.2,966.3 1507.6,964.5 1508.0,967.6 1508.4,967.6 1508.8,966.8 1509.2,967.8 1509.6,967.8 1510.0,965.6 1510.4,966.0 1510.8,967.4 1511.2,967.9 1511.6,966.4 1512.0,970.7 1512.4,968.5 1512.8,970.4 1513.2,966.9 1513.6,968.8 1514.0,971.1 1514.4,969.3 1514.8,971.6 1515.2,967.7 1515.6,968.7 1516.0,969.5 1516.4,970.7 1516.8,968.4 1517.2,973.9 1517.6,970.9 1518.0,973.2 1518.4,969.6 1518.8,971.1 1519.2,970.6 1519.6,971.4 1520.0,969.7 1520.4,973.2 1520.8,971.1 1521.2,971.9 1521.6,971.9 1522.0,971.3 1522.4,975.9 1522.8,973.6 1523.2,975.0 1523.6,971.9 1524.0,973.9 1524.4,973.7 1524.8,976.0 1525.2,974.5 1525.6,976.0 1526.0,974.0 1526.4,977.3 1526.8,977.2 1527.2,974.0 1527.6,976.0 1528.0,976.9 1528.4,982.2 1528.8,977.1 1529.2,979.5 1529.6,977.6" fill="none" stroke="#f00000" stroke-width="2.1" stroke-linejoin="round" />
<polyline points="979.0,969.2 1017.0,975.0 1042.2,977.5 1067.5,983.1 1082.7,984.6 1097.8,978.8 1108.0,985.1 1125.6,988.9 1138.3,988.4 1148.4,983.9 1166.0,983.4 1188.8,991.4 1209.1,983.9 1219.2,994.0 1229.0,985.0 1244.4,987.7 1262.0,993.0 1280.0,988.0 1290.0,990.0" fill="none" stroke="#6a6a6a" stroke-width="1.2" stroke-linejoin="round" stroke-dasharray="8 6"/>
<polyline points="1262.0,989.6 1262.9,990.1 1263.8,991.2 1264.7,997.1 1265.6,990.4 1266.5,991.9 1267.4,996.8 1268.3,983.1 1269.2,998.2 1270.1,991.5 1271.0,986.9 1271.9,989.4 1272.8,993.5 1273.7,992.6 1274.6,988.8 1275.5,986.5 1276.4,988.4 1277.3,988.7 1278.2,992.5 1279.1,990.1 1280.0,986.9 1280.9,992.6 1281.8,992.5 1282.7,994.7 1283.6,989.1 1284.5,989.9 1285.4,989.1 1286.3,987.9 1287.2,995.6 1288.1,990.2 1289.0,990.5 1289.9,988.4 1290.8,988.5 1291.7,992.1 1292.6,989.6 1293.5,989.5 1294.4,986.6 1295.3,1000.0 1296.2,986.6 1297.1,987.4 1298.0,990.3 1298.9,989.8 1299.8,991.2 1300.7,987.5 1301.6,986.9 1302.5,985.5 1303.4,992.1 1304.3,989.0 1305.2,987.7 1306.1,991.3 1307.0,985.9 1307.9,985.7 1308.8,987.8 1309.7,990.3 1310.6,990.1 1311.5,993.2 1312.4,992.6 1313.3,992.3 1314.2,994.2 1315.1,990.8 1316.0,986.8 1316.9,991.6 1317.8,991.1 1318.7,992.6 1319.6,993.5 1320.5,993.7 1321.4,987.3 1322.3,991.8 1323.2,990.4 1324.1,993.0 1325.0,987.7 1325.9,987.0 1326.8,992.8 1327.7,1000.8 1328.6,994.1 1329.5,993.9 1330.4,984.4 1331.3,988.7 1332.2,991.8 1333.1,992.3 1334.0,984.4 1334.9,984.7 1335.8,992.3 1336.7,995.2 1337.6,984.5 1338.5,984.9 1339.4,987.4 1340.3,990.9 1341.2,985.2 1342.1,987.1 1343.0,993.5 1343.9,980.5 1344.8,984.7 1345.7,989.7 1346.6,989.0 1347.5,989.9 1348.4,987.9 1349.3,988.4 1350.2,985.0 1351.1,994.3 1352.0,1004.2 1352.9,989.6 1353.8,990.7 1354.7,986.5 1355.6,985.5 1356.5,984.0 1357.4,990.3 1358.3,991.7 1359.2,986.7 1360.1,994.0 1361.0,984.5 1361.9,991.7 1362.8,984.3 1363.7,993.1 1364.6,988.4 1365.5,990.1 1366.4,983.9 1367.3,989.5 1368.2,985.1 1369.1,994.4" fill="none" stroke="#707070" stroke-width="1.3" stroke-linejoin="round" stroke-dasharray="3 2.2"/>
<polyline points="1368.0,985.9 1368.3,985.8 1368.6,986.9 1368.9,997.5 1369.2,995.2 1369.5,990.8 1369.8,997.0 1370.1,993.0 1370.4,992.8 1370.7,995.3 1371.0,994.3 1371.3,985.9 1371.6,993.6 1371.9,985.5 1372.2,997.7 1372.5,994.8 1372.8,995.7 1373.1,990.1 1373.4,995.4 1373.7,988.1 1374.0,991.7 1374.3,985.3 1374.6,995.6 1374.9,996.4 1375.2,986.6 1375.5,987.2 1375.8,997.5 1376.1,994.5 1376.4,995.7 1376.7,994.1 1377.0,996.4 1377.3,985.1 1377.6,996.6 1377.9,992.9 1378.2,1003.7 1378.5,984.0 1378.8,996.3 1379.1,993.1 1379.4,989.0 1379.7,989.3 1380.0,993.4 1380.3,985.2 1380.6,994.7 1380.9,994.1 1381.2,985.8 1381.5,984.6 1381.8,986.8 1382.1,998.8 1382.4,987.4 1382.7,993.5 1383.0,990.1 1383.3,998.9 1383.6,999.4 1383.9,997.0 1384.2,997.3 1384.5,998.8 1384.8,996.7 1385.1,989.6 1385.4,992.7 1385.7,992.2 1386.0,998.7 1386.3,994.6 1386.6,993.9 1386.9,999.2 1387.2,994.6 1387.5,990.1 1387.8,994.9 1388.1,992.1 1388.4,995.2 1388.7,995.0 1389.0,991.3 1389.3,998.4 1389.6,1002.5 1389.9,986.5 1390.2,998.4 1390.5,993.6 1390.8,985.1 1391.1,996.2 1391.4,988.8 1391.7,989.0 1392.0,991.1 1392.3,994.7 1392.6,995.2 1392.9,999.8 1393.2,995.5 1393.5,987.0 1393.8,997.7 1394.1,990.0 1394.4,992.8 1394.7,987.1 1395.0,987.3 1395.3,985.4 1395.6,990.7 1395.9,1000.1 1396.2,989.6 1396.5,987.8 1396.8,991.7 1397.1,988.8 1397.4,990.9 1397.7,989.0 1398.0,999.4 1398.3,998.2 1398.6,997.3 1398.9,987.2 1399.2,992.3 1399.5,995.6 1399.8,989.2 1400.1,999.7 1400.4,989.5 1400.7,989.0 1401.0,985.5 1401.3,994.1 1401.6,1000.2 1401.9,988.8 1402.2,993.8 1402.5,996.0 1402.8,998.1 1403.1,989.9 1403.4,1000.8 1403.7,996.3 1404.0,991.4 1404.3,997.2 1404.6,991.4 1404.9,990.7 1405.2,999.3 1405.5,993.6 1405.8,999.9 1406.1,990.6 1406.4,991.9 1406.7,999.1 1407.0,994.6 1407.3,994.6 1407.6,999.1 1407.9,999.0 1408.2,996.3 1408.5,993.5 1408.8,1000.1 1409.1,998.8 1409.4,999.8 1409.7,996.9 1410.0,995.4 1410.3,986.3 1410.6,999.0 1410.9,988.8 1411.2,986.8 1411.5,1001.6 1411.8,991.3 1412.1,986.5 1412.4,999.6 1412.7,987.7 1413.0,986.3 1413.3,994.7 1413.6,986.0 1413.9,987.2 1414.2,996.0 1414.5,991.0 1414.8,989.1 1415.1,989.0 1415.4,999.1 1415.7,986.0 1416.0,986.0 1416.3,992.7 1416.6,996.2 1416.9,995.4 1417.2,994.2 1417.5,989.4 1417.8,1002.5 1418.1,1001.9 1418.4,1002.3 1418.7,993.7 1419.0,993.3 1419.3,997.7 1419.6,991.4 1419.9,992.5 1420.2,988.9 1420.5,994.5 1420.8,989.0 1421.1,989.0 1421.4,995.3 1421.7,1002.3 1422.0,1001.9 1422.3,998.1 1422.6,986.8 1422.9,985.9 1423.2,998.1 1423.5,990.3 1423.8,988.5 1424.1,1002.8 1424.4,986.5 1424.7,991.9 1425.0,999.7 1425.3,987.5 1425.6,988.4 1425.9,993.9 1426.2,1001.6 1426.5,994.1 1426.8,988.0 1427.1,995.6 1427.4,989.5 1427.7,986.2 1428.0,998.2 1428.3,1002.9 1428.6,998.6 1428.9,1000.0 1429.2,993.6 1429.5,996.1 1429.8,986.0 1430.1,999.7 1430.4,986.7 1430.7,995.3 1431.0,991.6 1431.3,1001.5 1431.6,997.2 1431.9,990.2 1432.2,992.7 1432.5,996.4 1432.8,989.5 1433.1,996.3 1433.4,998.5 1433.7,987.2 1434.0,987.0 1434.3,993.1 1434.6,998.7 1434.9,997.5 1435.2,994.4 1435.5,1002.2 1435.8,987.2 1436.1,1003.6 1436.4,993.0 1436.7,1000.7 1437.0,1003.7 1437.3,1003.5 1437.6,984.5 1437.9,1002.7 1438.2,998.1 1438.5,997.5 1438.8,990.8 1439.1,986.5 1439.4,988.0 1439.7,998.9 1440.0,1000.6 1440.3,995.4 1440.6,1000.3 1440.9,1013.4 1441.2,996.2 1441.5,995.3 1441.8,996.9 1442.1,984.2 1442.4,991.5 1442.7,986.4 1443.0,986.7 1443.3,1000.9 1443.6,988.5 1443.9,990.0 1444.2,988.3 1444.5,996.2 1444.8,988.0 1445.1,1001.7 1445.4,988.2 1445.7,991.8 1446.0,989.0 1446.3,1004.1 1446.6,986.5 1446.9,988.5 1447.2,997.3 1447.5,994.7 1447.8,997.5 1448.1,1003.1 1448.4,1001.0 1448.7,1001.7 1449.0,987.0 1449.3,1002.0 1449.6,1002.5 1449.9,1003.7 1450.2,999.4 1450.5,992.0 1450.8,992.5 1451.1,994.6 1451.4,998.5 1451.7,1000.5 1452.0,1004.8 1452.3,991.6 1452.6,999.7 1452.9,1002.9 1453.2,992.6 1453.5,1000.9 1453.8,1001.3 1454.1,988.5 1454.4,992.4 1454.7,993.4 1455.0,1004.5 1455.3,996.5 1455.6,996.6 1455.9,994.2 1456.2,999.5 1456.5,988.3 1456.8,992.0 1457.1,986.9 1457.4,1000.0 1457.7,990.0 1458.0,999.5 1458.3,1000.6 1458.6,991.4 1458.9,987.3 1459.2,990.7 1459.5,1004.8 1459.8,997.8 1460.1,998.0 1460.4,992.5 1460.7,994.7 1461.0,989.5 1461.3,996.1 1461.6,999.7 1461.9,1001.3 1462.2,988.7 1462.5,994.5 1462.8,995.2 1463.1,988.6 1463.4,993.3 1463.7,987.5 1464.0,991.2 1464.3,1002.1 1464.6,997.3 1464.9,1004.0 1465.2,999.4 1465.5,999.5 1465.8,989.7 1466.1,1005.6 1466.4,999.3 1466.7,991.2 1467.0,987.3 1467.3,989.5 1467.6,993.9 1467.9,989.6 1468.2,991.7 1468.5,996.9 1468.8,991.6 1469.1,992.3 1469.4,1001.5 1469.7,990.5 1470.0,994.2 1470.3,999.1 1470.6,999.6 1470.9,1002.8 1471.2,987.3 1471.5,988.9 1471.8,1000.4 1472.1,988.9 1472.4,990.0 1472.7,995.1 1473.0,987.9 1473.3,995.6 1473.6,997.3 1473.9,990.8 1474.2,997.4 1474.5,1005.1 1474.8,988.6 1475.1,996.6 1475.4,989.7 1475.7,990.5 1476.0,991.5 1476.3,995.3 1476.6,987.8 1476.9,992.5 1477.2,999.2 1477.5,988.6 1477.8,995.6 1478.1,986.5 1478.4,1003.8 1478.7,1000.6 1479.0,990.7 1479.3,998.0 1479.6,989.0 1479.9,1004.6 1480.2,1002.9 1480.5,1003.7 1480.8,990.5 1481.1,1003.7 1481.4,997.6 1481.7,988.7 1482.0,1000.7 1482.3,1004.4 1482.6,1010.8 1482.9,990.5 1483.2,996.0 1483.5,995.6 1483.8,998.1 1484.1,1002.3 1484.4,1005.5 1484.7,990.2 1485.0,992.1 1485.3,992.5 1485.6,986.2 1485.9,988.9 1486.2,985.7 1486.5,990.8 1486.8,996.8 1487.1,988.3 1487.4,988.0 1487.7,988.5 1488.0,995.9 1488.3,1000.8 1488.6,988.8 1488.9,994.5 1489.2,1003.2 1489.5,1002.6 1489.8,990.8 1490.1,988.8 1490.4,993.5 1490.7,991.1 1491.0,1002.7 1491.3,995.9 1491.6,1001.5 1491.9,995.5 1492.2,990.1 1492.5,997.0 1492.8,1003.2 1493.1,989.1 1493.4,1003.2 1493.7,988.8 1494.0,990.3 1494.3,992.5 1494.6,998.7 1494.9,1000.0 1495.2,994.6 1495.5,1008.8 1495.8,998.7 1496.1,998.1 1496.4,1004.3 1496.7,989.7 1497.0,1004.3 1497.3,993.2 1497.6,1003.1 1497.9,999.8 1498.2,998.3 1498.5,987.4 1498.8,989.2 1499.1,985.5 1499.4,993.0 1499.7,986.3 1500.0,1003.9 1500.3,991.9 1500.6,993.6 1500.9,1003.8 1501.2,987.9 1501.5,1004.3 1501.8,1001.7 1502.1,997.5 1502.4,1004.3 1502.7,1000.2 1503.0,989.7 1503.3,996.8 1503.6,1002.4 1503.9,996.6 1504.2,999.3 1504.5,990.9 1504.8,1004.2 1505.1,989.8 1505.4,1009.2 1505.7,1003.6 1506.0,987.4 1506.3,995.0 1506.6,992.9 1506.9,987.8 1507.2,987.6 1507.5,997.1 1507.8,989.6 1508.1,999.2 1508.4,994.3 1508.7,1003.3 1509.0,985.1 1509.3,998.4 1509.6,998.9 1509.9,1000.6 1510.2,986.0 1510.5,988.0 1510.8,1000.7 1511.1,988.7 1511.4,997.7 1511.7,986.8 1512.0,996.0 1512.3,997.1 1512.6,989.2 1512.9,994.9 1513.2,984.4 1513.5,988.4 1513.8,997.1 1514.1,996.6 1514.4,988.0 1514.7,997.6 1515.0,987.0 1515.3,999.8 1515.6,998.7 1515.9,1000.3 1516.2,990.2 1516.5,984.7 1516.8,982.1 1517.1,986.7 1517.4,1002.0 1517.7,987.6 1518.0,994.1 1518.3,991.1 1518.6,994.7 1518.9,985.8 1519.2,991.8 1519.5,989.0 1519.8,988.4 1520.1,993.8 1520.4,1000.1 1520.7,993.2 1521.0,1003.6 1521.3,986.1 1521.6,997.4 1521.9,984.7 1522.2,1003.3 1522.5,993.9 1522.8,990.4 1523.1,1000.0 1523.4,993.4 1523.7,992.5 1524.0,1002.2 1524.3,1000.6 1524.6,986.5 1524.9,987.8 1525.2,1002.1 1525.5,988.0 1525.8,993.5 1526.1,987.0 1526.4,1005.3 1526.7,990.0 1527.0,1003.6 1527.3,994.7 1527.6,997.5 1527.9,994.6 1528.2,1000.4 1528.5,988.8 1528.8,987.0 1529.1,992.0 1529.4,990.3 1529.7,1006.2 1530.0,1003.3 1530.3,988.6 1530.6,992.3 1530.9,994.0 1531.2,1003.7 1531.5,985.2 1531.8,998.2 1532.1,1005.7 1532.4,1003.5 1532.7,990.9 1533.0,993.3 1533.3,993.4 1533.6,990.2 1533.9,994.2 1534.2,1004.6 1534.5,990.7 1534.8,1002.9 1535.1,1001.3 1535.4,1003.2 1535.7,999.8 1536.0,1003.9 1536.3,997.4 1536.6,1003.5 1536.9,1004.1 1537.2,1004.9 1537.5,1006.3 1537.8,1000.6 1538.1,986.8 1538.4,997.8 1538.7,993.3 1539.0,1003.1 1539.3,990.6 1539.6,991.4 1539.9,1003.5 1540.2,990.9 1540.5,987.4 1540.8,990.7 1541.1,995.7 1541.4,1009.1 1541.7,1001.7 1542.0,998.1 1542.3,1004.8 1542.6,1008.5 1542.9,990.0 1543.2,1008.1 1543.5,999.8 1543.8,1010.1 1544.1,993.4 1544.4,997.6 1544.7,1006.3 1545.0,1020.8 1545.3,1000.1 1545.6,1000.3 1545.9,1003.0 1546.2,1010.3 1546.5,995.6 1546.8,1011.3 1547.1,1013.9 1547.4,1002.0 1547.7,1009.8 1548.0,996.2 1548.3,999.9 1548.6,996.2 1548.9,1005.2 1549.2,995.4 1549.5,1019.9 1549.8,1014.4 1550.1,1018.0 1550.4,1014.0 1550.7,1002.8 1551.0,1006.4 1551.3,1019.1 1551.6,1021.1 1551.9,1020.8 1552.2,997.6 1552.5,1017.6 1552.8,1011.8 1553.1,1002.2 1553.4,1009.7 1553.7,1003.5 1554.0,1016.6 1554.3,1002.0 1554.6,1010.9 1554.9,1013.9 1555.2,1001.6 1555.5,1018.2 1555.8,1018.3 1556.1,1004.4 1556.4,1020.6 1556.7,1009.9 1557.0,997.7 1557.3,1017.5 1557.6,1010.4 1557.9,1028.2 1558.2,1020.6 1558.5,1001.7 1558.8,1008.7 1559.1,1005.1 1559.4,1002.2 1559.7,1001.3 1560.0,1011.9 1560.3,1011.1 1560.6,1028.1 1560.9,1027.2 1561.2,1001.2 1561.5,999.3 1561.8,996.8 1562.1,1028.3 1562.4,1006.6 1562.7,1006.5 1563.0,1007.9 1563.3,1024.9 1563.6,993.9 1563.9,1020.1 1564.2,1016.6 1564.5,1008.2 1564.8,1004.4 1565.1,1017.8 1565.4,1028.4 1565.7,1006.9 1566.0,1022.6 1566.3,1018.4 1566.6,1028.3 1566.9,1008.2 1567.2,997.6 1567.5,1029.3 1567.8,1011.1 1568.1,1006.8 1568.4,1006.3 1568.7,1027.8 1569.0,1011.0 1569.3,1007.7 1569.6,1022.5 1569.9,1007.1 1570.2,1006.8 1570.5,1013.3 1570.8,1005.7 1571.1,999.3 1571.4,994.2 1571.7,995.6 1572.0,998.8 1572.3,995.5 1572.6,1020.6 1572.9,1027.1 1573.2,1013.8 1573.5,996.7 1573.8,1009.5 1574.1,1021.1 1574.4,1007.7 1574.7,1025.7 1575.0,1015.5 1575.3,992.9 1575.6,994.3 1575.9,1016.8 1576.2,999.5 1576.5,1016.0 1576.8,1029.3 1577.1,1029.7 1577.4,1007.9 1577.7,1002.1 1578.0,1030.3 1578.3,1000.0 1578.6,999.1 1578.9,1017.4 1579.2,1026.0 1579.5,1022.8 1579.8,1010.2 1580.1,1015.7 1580.4,1008.1 1580.7,1025.3" fill="none" stroke="#808080" stroke-width="1.7" stroke-linejoin="round" />
<polyline points="976.5,920.2 1000.0,927.0 1022.0,933.3 1042.2,935.1 1095.3,935.1 1103.0,931.5 1111.7,927.7 1120.6,930.8 1128.2,927.7 1147.1,935.8 1156.0,932.0 1163.6,921.9 1170.0,934.0 1176.2,947.2 1181.0,936.0 1185.0,928.3 1191.4,940.9 1197.0,934.0 1204.0,933.3 1211.0,930.5 1219.2,933.3 1226.0,934.0 1230.5,943.4 1236.9,929.5 1240.0,935.0" fill="none" stroke="#000" stroke-width="1.5" stroke-linejoin="round" />
<polyline points="1240.0,936.2 1240.9,933.6 1241.8,937.7 1242.7,938.9 1243.6,936.7 1244.5,939.5 1245.4,938.6 1246.3,939.4 1247.2,942.0 1248.1,942.1 1249.0,935.9 1249.9,935.5 1250.8,941.6 1251.7,942.3 1252.6,941.0 1253.5,942.1 1254.4,940.5 1255.3,944.0 1256.2,936.3 1257.1,933.7 1258.0,943.4 1258.9,943.7 1259.8,946.1 1260.7,939.0 1261.6,933.8 1262.5,934.1" fill="none" stroke="#000" stroke-width="1.7" stroke-linejoin="round" />
<polyline points="1262.0,934.2 1262.3,939.5 1262.6,936.6 1262.9,942.9 1263.2,940.5 1263.5,936.0 1263.8,937.1 1264.1,947.5 1264.4,948.8 1264.7,942.0 1265.0,945.1 1265.3,946.8 1265.6,948.3 1265.9,934.8 1266.2,935.3 1266.5,933.8 1266.8,941.9 1267.1,935.2 1267.4,939.3 1267.7,943.4 1268.0,934.6 1268.3,944.8 1268.6,941.0 1268.9,945.3 1269.2,948.8 1269.5,935.6 1269.8,935.4 1270.1,941.8 1270.4,936.2 1270.7,941.4 1271.0,937.7 1271.3,937.3 1271.6,943.9 1271.9,946.6 1272.2,942.7 1272.5,941.2 1272.8,949.2 1273.1,945.3 1273.4,937.8 1273.7,947.8 1274.0,949.6 1274.3,945.6 1274.6,940.9 1274.9,936.4 1275.2,942.5 1275.5,940.4 1275.8,947.2 1276.1,937.0 1276.4,940.6 1276.7,951.2 1277.0,944.4 1277.3,941.0 1277.6,942.0 1277.9,936.6 1278.2,945.4 1278.5,951.0 1278.8,940.9 1279.1,945.6 1279.4,949.6 1279.7,941.0 1280.0,940.0 1280.3,939.0 1280.6,939.4 1280.9,938.5 1281.2,937.0 1281.5,946.7 1281.8,951.3 1282.1,946.9 1282.4,932.1 1282.7,952.2 1283.0,948.1 1283.3,951.1 1283.6,952.0 1283.9,938.4 1284.2,937.1 1284.5,940.1 1284.8,944.6 1285.1,952.6 1285.4,947.9 1285.7,950.3 1286.0,937.5 1286.3,940.4 1286.6,942.1 1286.9,952.8 1287.2,953.6 1287.5,947.5 1287.8,948.9 1288.1,942.3 1288.4,940.5 1288.7,938.8 1289.0,946.6 1289.3,938.9 1289.6,946.4 1289.9,943.6 1290.2,933.4 1290.5,940.4 1290.8,940.6 1291.1,940.6 1291.4,945.0 1291.7,942.4 1292.0,940.4 1292.3,951.7 1292.6,945.7 1292.9,947.6 1293.2,937.8 1293.5,942.7 1293.8,948.6 1294.1,942.3 1294.4,954.0 1294.7,939.6 1295.0,942.8 1295.3,949.9 1295.6,938.0 1295.9,952.7 1296.2,939.8 1296.5,938.0 1296.8,943.2 1297.1,950.9 1297.4,946.6 1297.7,949.7 1298.0,949.6 1298.3,956.5 1298.6,944.7 1298.9,938.9 1299.2,956.1 1299.5,942.4 1299.8,941.6 1300.1,950.5 1300.4,940.4 1300.7,947.8 1301.0,955.0 1301.3,947.1 1301.6,941.3 1301.9,947.1 1302.2,943.3 1302.5,953.3 1302.8,940.5 1303.1,940.3 1303.4,951.2 1303.7,952.6 1304.0,953.3 1304.3,940.7 1304.6,951.9 1304.9,951.4 1305.2,951.8 1305.5,956.9 1305.8,938.4 1306.1,952.2 1306.4,950.6 1306.7,955.1 1307.0,940.8 1307.3,953.0 1307.6,945.4 1307.9,957.7 1308.2,956.0 1308.5,955.3 1308.8,957.3 1309.1,956.9 1309.4,942.7 1309.7,948.2 1310.0,946.2 1310.3,950.3 1310.6,944.5 1310.9,948.8 1311.2,951.9 1311.5,949.5 1311.8,954.0 1312.1,954.3 1312.4,944.2 1312.7,949.3 1313.0,945.1 1313.3,953.1 1313.6,948.9 1313.9,943.8 1314.2,946.6 1314.5,946.7 1314.8,953.8 1315.1,944.4 1315.4,952.5 1315.7,952.1 1316.0,945.3 1316.3,942.2 1316.6,950.2 1316.9,958.6 1317.2,944.7 1317.5,942.4 1317.8,954.4 1318.1,947.5 1318.4,949.8 1318.7,957.6 1319.0,957.1 1319.3,948.7 1319.6,959.2 1319.9,943.8 1320.2,958.4 1320.5,947.2 1320.8,957.9 1321.1,944.6 1321.4,948.2 1321.7,958.2 1322.0,948.7 1322.3,948.9 1322.6,951.3 1322.9,955.8 1323.2,954.3 1323.5,948.8 1323.8,953.1 1324.1,945.3 1324.4,958.8 1324.7,952.7 1325.0,945.1 1325.3,954.0 1325.6,951.5 1325.9,945.9 1326.2,949.8 1326.5,959.1 1326.8,960.7 1327.1,958.3 1327.4,953.3 1327.7,942.9 1328.0,957.6 1328.3,957.1 1328.6,958.3 1328.9,946.8 1329.2,957.3 1329.5,953.0 1329.8,957.9 1330.1,947.7 1330.4,951.2 1330.7,944.6 1331.0,948.8 1331.3,944.8 1331.6,951.3 1331.9,948.7 1332.2,953.1 1332.5,946.5 1332.8,952.8 1333.1,959.8 1333.4,960.2 1333.7,950.0 1334.0,954.4 1334.3,945.4 1334.6,950.9 1334.9,956.4 1335.2,950.2 1335.5,960.1 1335.8,952.1 1336.1,951.1 1336.4,947.3 1336.7,957.0 1337.0,952.1 1337.3,959.5 1337.6,960.4 1337.9,960.8 1338.2,963.0 1338.5,957.6 1338.8,953.8 1339.1,948.2 1339.4,958.2 1339.7,957.3 1340.0,956.8 1340.3,954.9 1340.6,955.7 1340.9,954.5 1341.2,948.0 1341.5,958.4 1341.8,957.3 1342.1,956.5 1342.4,954.1 1342.7,956.6 1343.0,952.8 1343.3,964.4 1343.6,958.4 1343.9,952.9 1344.2,964.6 1344.5,951.3 1344.8,949.7 1345.1,960.9 1345.4,954.8 1345.7,959.6 1346.0,963.0 1346.3,963.7 1346.6,947.2 1346.9,948.1 1347.2,958.7 1347.5,950.0 1347.8,952.3 1348.1,964.3 1348.4,966.0 1348.7,962.4 1349.0,964.9 1349.3,961.3 1349.6,949.2 1349.9,958.0 1350.2,964.0 1350.5,961.0 1350.8,962.7 1351.1,951.5 1351.4,953.2 1351.7,963.7 1352.0,961.2 1352.3,952.4 1352.6,966.3 1352.9,957.9 1353.2,948.8 1353.5,962.5 1353.8,955.2 1354.1,955.1 1354.4,961.1 1354.7,958.6 1355.0,966.2 1355.3,958.5 1355.6,952.7 1355.9,955.7 1356.2,950.8 1356.5,961.2 1356.8,956.3 1357.1,953.4 1357.4,949.4 1357.7,954.2 1358.0,960.0 1358.3,961.4 1358.6,964.4 1358.9,966.1 1359.2,962.6 1359.5,958.1 1359.8,968.0 1360.1,951.9 1360.4,959.7 1360.7,954.3 1361.0,957.6 1361.3,953.7 1361.6,954.0 1361.9,960.6 1362.2,960.1 1362.5,950.9 1362.8,950.2 1363.1,961.5 1363.4,954.9 1363.7,956.7 1364.0,955.3 1364.3,963.3 1364.6,960.2 1364.9,963.4 1365.2,954.1 1365.5,965.2 1365.8,967.3 1366.1,952.4 1366.4,953.1 1366.7,953.2 1367.0,956.5 1367.3,960.6 1367.6,966.9 1367.9,954.2 1368.2,952.3 1368.5,954.2 1368.8,967.1 1369.1,952.2 1369.4,960.3 1369.7,960.0 1370.0,954.1 1370.3,962.5 1370.6,961.2 1370.9,968.8 1371.2,956.5 1371.5,970.1 1371.8,965.8 1372.1,962.1 1372.4,958.1 1372.7,970.0 1373.0,960.7 1373.3,976.1 1373.6,965.9 1373.9,962.9 1374.2,959.8 1374.5,968.0 1374.8,966.5 1375.1,969.9 1375.4,960.6 1375.7,961.0 1376.0,967.4 1376.3,969.8 1376.6,965.2 1376.9,957.2 1377.2,956.4 1377.5,955.6 1377.8,962.3 1378.1,962.9 1378.4,963.3 1378.7,965.5 1379.0,974.0 1379.3,964.0 1379.6,974.3 1379.9,968.2 1380.2,963.5 1380.5,961.5 1380.8,957.1 1381.1,973.0 1381.4,964.8 1381.7,961.8 1382.0,966.5 1382.3,974.6 1382.6,961.4 1382.9,961.8 1383.2,974.4 1383.5,968.3 1383.8,958.4 1384.1,959.4 1384.4,973.9 1384.7,959.9 1385.0,957.9 1385.3,962.0 1385.6,959.6 1385.9,967.8 1386.2,973.6 1386.5,962.9 1386.8,970.1 1387.1,960.2 1387.4,966.2 1387.7,974.9 1388.0,959.8 1388.3,969.8 1388.6,964.0 1388.9,962.3 1389.2,964.2 1389.5,964.5 1389.8,971.1 1390.1,974.2 1390.4,963.4 1390.7,968.8 1391.0,972.8 1391.3,967.0 1391.6,964.5 1391.9,976.3 1392.2,977.3 1392.5,974.9 1392.8,963.4 1393.1,971.9 1393.4,970.2 1393.7,976.1 1394.0,964.7 1394.3,963.5 1394.6,973.4 1394.9,972.5 1395.2,969.0 1395.5,970.9 1395.8,978.3 1396.1,968.2 1396.4,973.4 1396.7,972.6 1397.0,971.1 1397.3,963.9 1397.6,978.8 1397.9,979.3 1398.2,976.5 1398.5,974.7 1398.8,978.5 1399.1,977.4 1399.4,975.7 1399.7,966.8 1400.0,976.1 1400.3,977.0 1400.6,964.2 1400.9,971.8 1401.2,967.5 1401.5,964.1 1401.8,965.5 1402.1,967.5 1402.4,967.1 1402.7,971.9 1403.0,973.2 1403.3,973.5 1403.6,965.9 1403.9,962.1 1404.2,975.2 1404.5,971.3 1404.8,967.3 1405.1,968.9 1405.4,978.8 1405.7,982.1 1406.0,977.4 1406.3,972.5 1406.6,965.1 1406.9,967.3 1407.2,965.9 1407.5,973.2 1407.8,974.3 1408.1,980.0 1408.4,973.3 1408.7,980.2 1409.0,964.6 1409.3,976.1 1409.6,975.0 1409.9,980.6 1410.2,971.3 1410.5,977.3 1410.8,965.0 1411.1,978.4 1411.4,976.1 1411.7,965.6 1412.0,972.6 1412.3,981.3 1412.6,971.8 1412.9,975.4 1413.2,981.9 1413.5,964.9 1413.8,963.9 1414.1,971.4 1414.4,971.5 1414.7,978.5 1415.0,968.3 1415.3,973.2 1415.6,976.2 1415.9,970.1 1416.2,982.9 1416.5,972.3 1416.8,965.2 1417.1,980.1 1417.4,982.6 1417.7,975.4 1418.0,964.6 1418.3,969.4 1418.6,965.7 1418.9,971.7 1419.2,972.3 1419.5,978.5 1419.8,976.1 1420.1,976.1 1420.4,983.6 1420.7,965.7 1421.0,977.6 1421.3,982.5 1421.6,982.0 1421.9,976.1 1422.2,970.8 1422.5,976.9 1422.8,975.6 1423.1,976.1 1423.4,976.1 1423.7,966.0 1424.0,976.0 1424.3,983.9 1424.6,974.7 1424.9,975.8 1425.2,986.3 1425.5,978.1 1425.8,966.3 1426.1,981.0 1426.4,973.1 1426.7,979.3 1427.0,977.4 1427.3,977.1 1427.6,980.8 1427.9,970.7 1428.2,973.4 1428.5,981.4 1428.8,976.8 1429.1,986.4 1429.4,975.6 1429.7,969.4 1430.0,973.9 1430.3,984.0 1430.6,972.7 1430.9,969.0 1431.2,979.8 1431.5,968.8 1431.8,976.2 1432.1,982.2 1432.4,970.8 1432.7,982.1 1433.0,966.8 1433.3,982.5 1433.6,981.4 1433.9,978.9 1434.2,985.6 1434.5,982.8 1434.8,972.9 1435.1,980.0 1435.4,977.8 1435.7,971.9 1436.0,969.7 1436.3,984.1 1436.6,980.5 1436.9,969.6 1437.2,981.9 1437.5,969.2 1437.8,982.1 1438.1,982.9 1438.4,969.5 1438.7,984.2 1439.0,969.0 1439.3,969.3 1439.6,969.2 1439.9,980.3 1440.2,975.5 1440.5,968.4 1440.8,972.4 1441.1,981.4 1441.4,978.0 1441.7,970.3 1442.0,973.5 1442.3,982.0 1442.6,974.2 1442.9,984.4 1443.2,977.1 1443.5,985.5 1443.8,976.5 1444.1,984.3 1444.4,972.9 1444.7,977.5 1445.0,970.9 1445.3,986.7 1445.6,975.2 1445.9,984.9 1446.2,970.3 1446.5,982.0 1446.8,980.4 1447.1,977.7 1447.4,976.4 1447.7,985.2 1448.0,985.5 1448.3,986.2 1448.6,985.3 1448.9,984.4 1449.2,991.1 1449.5,983.4 1449.8,983.6 1450.1,982.1 1450.4,975.6 1450.7,983.0 1451.0,969.5 1451.3,972.0 1451.6,975.7 1451.9,984.7 1452.2,979.8 1452.5,969.8 1452.8,977.6 1453.1,976.2 1453.4,975.6 1453.7,975.7 1454.0,985.6 1454.3,978.0 1454.6,972.5 1454.9,977.1 1455.2,986.3 1455.5,969.6 1455.8,974.2 1456.1,984.6 1456.4,982.5 1456.7,977.9 1457.0,968.5 1457.3,980.3 1457.6,974.9 1457.9,983.2 1458.2,968.9 1458.5,980.0 1458.8,968.4 1459.1,968.2 1459.4,979.5 1459.7,976.1 1460.0,971.1 1460.3,983.1 1460.6,981.2 1460.9,982.9 1461.2,980.0 1461.5,978.2 1461.8,986.0 1462.1,977.6 1462.4,969.4 1462.7,971.9 1463.0,967.8 1463.3,984.0 1463.6,981.2 1463.9,971.9 1464.2,973.2 1464.5,974.1 1464.8,978.4 1465.1,986.2 1465.4,990.8 1465.7,968.0 1466.0,974.8 1466.3,973.4 1466.6,982.3 1466.9,981.8 1467.2,968.1 1467.5,971.5 1467.8,967.4 1468.1,980.0 1468.4,979.5 1468.7,981.3 1469.0,971.3 1469.3,978.7 1469.6,971.1 1469.9,973.9 1470.2,974.0 1470.5,978.3 1470.8,981.2 1471.1,981.6 1471.4,969.1 1471.7,977.1 1472.0,984.1 1472.3,972.7 1472.6,980.5 1472.9,972.1 1473.2,988.1 1473.5,973.4 1473.8,975.4 1474.1,967.7 1474.4,977.8 1474.7,972.4 1475.0,969.4 1475.3,969.5 1475.6,972.0 1475.9,975.7 1476.2,977.2 1476.5,980.9 1476.8,984.6 1477.1,977.8 1477.4,973.4 1477.7,984.0 1478.0,969.0 1478.3,980.0 1478.6,971.7 1478.9,983.0 1479.2,976.6 1479.5,970.8 1479.8,975.2 1480.1,970.7 1480.4,967.9 1480.7,969.3 1481.0,977.1 1481.3,982.2 1481.6,978.9 1481.9,969.5 1482.2,981.6 1482.5,984.8 1482.8,974.6 1483.1,973.6 1483.4,984.0 1483.7,977.4 1484.0,969.2 1484.3,981.7 1484.6,978.4 1484.9,985.2 1485.2,981.9 1485.5,973.0 1485.8,974.8 1486.1,967.8 1486.4,974.3 1486.7,975.9 1487.0,972.7 1487.3,967.4 1487.6,968.4 1487.9,979.8 1488.2,985.4 1488.5,985.1 1488.8,980.3 1489.1,983.1 1489.4,975.2 1489.7,982.4 1490.0,967.4 1490.3,970.0 1490.6,985.8 1490.9,970.8 1491.2,983.9 1491.5,977.9 1491.8,974.7 1492.1,966.9 1492.4,967.9 1492.7,968.8 1493.0,982.7 1493.3,967.5 1493.6,976.0 1493.9,969.3 1494.2,981.8 1494.5,983.1 1494.8,971.5 1495.1,975.1 1495.4,977.1 1495.7,975.9 1496.0,984.9 1496.3,966.4 1496.6,972.0 1496.9,969.2 1497.2,975.1 1497.5,979.1 1497.8,980.2 1498.1,979.6 1498.4,976.2 1498.7,980.3 1499.0,972.1 1499.3,980.8 1499.6,967.7 1499.9,967.4 1500.2,979.5 1500.5,980.1 1500.8,975.9 1501.1,977.4 1501.4,976.2 1501.7,979.4 1502.0,967.4 1502.3,972.9 1502.6,975.5 1502.9,972.2 1503.2,971.8 1503.5,970.4 1503.8,972.1 1504.1,975.8 1504.4,973.6 1504.7,982.2 1505.0,973.2 1505.3,965.4 1505.6,980.1 1505.9,969.0 1506.2,979.2 1506.5,971.4 1506.8,979.1 1507.1,980.2 1507.4,975.1 1507.7,977.4 1508.0,966.5 1508.3,977.6 1508.6,979.0 1508.9,972.5 1509.2,981.2 1509.5,965.3 1509.8,971.4 1510.1,980.9 1510.4,965.6 1510.7,969.7 1511.0,969.3 1511.3,978.5 1511.6,976.7 1511.9,980.9 1512.2,969.1 1512.5,964.9 1512.8,974.6 1513.1,967.3 1513.4,973.3 1513.7,968.4 1514.0,979.6 1514.3,967.3 1514.6,967.6 1514.9,965.3 1515.2,970.6 1515.5,965.3 1515.8,964.6 1516.1,968.4 1516.4,976.5 1516.7,971.0 1517.0,976.6 1517.3,969.9 1517.6,966.5 1517.9,971.7 1518.2,968.9 1518.5,964.1 1518.8,968.3 1519.1,970.1 1519.4,965.2 1519.7,967.6 1520.0,975.5 1520.3,969.3 1520.6,965.9 1520.9,976.5 1521.2,967.0 1521.5,966.2 1521.8,967.2 1522.1,975.5 1522.4,977.3 1522.7,960.5 1523.0,965.2 1523.3,975.8 1523.6,968.3 1523.9,978.7 1524.2,961.5 1524.5,964.7 1524.8,962.0 1525.1,966.5 1525.4,965.3 1525.7,963.3 1526.0,978.0 1526.3,972.3 1526.6,964.5 1526.9,974.3 1527.2,965.8 1527.5,967.3 1527.8,963.7 1528.1,970.8 1528.4,968.5 1528.7,975.3 1529.0,961.9 1529.3,968.3 1529.6,969.0 1529.9,975.3 1530.2,959.1 1530.5,958.5 1530.8,960.8 1531.1,972.9 1531.4,963.5 1531.7,970.9 1532.0,970.8 1532.3,965.4 1532.6,970.1 1532.9,960.1 1533.2,965.1 1533.5,964.7 1533.8,967.8 1534.1,972.4 1534.4,963.4 1534.7,973.4 1535.0,971.5 1535.3,971.8 1535.6,959.0 1535.9,958.5 1536.2,962.7 1536.5,966.7 1536.8,969.8 1537.1,971.5 1537.4,962.3 1537.7,970.6 1538.0,963.1 1538.3,958.9 1538.6,965.0 1538.9,962.9 1539.2,966.4 1539.5,973.6 1539.8,970.2 1540.1,973.6 1540.4,968.0 1540.7,962.8 1541.0,973.0 1541.3,959.6 1541.6,972.2 1541.9,968.5 1542.2,968.9 1542.5,969.4 1542.8,976.5 1543.1,961.9 1543.4,971.6 1543.7,972.8 1544.0,963.1 1544.3,974.8 1544.6,970.3 1544.9,963.4 1545.2,977.7 1545.5,968.4 1545.8,966.3 1546.1,976.1 1546.4,967.2 1546.7,970.9 1547.0,968.7 1547.3,975.0 1547.6,972.9 1547.9,972.5 1548.2,962.9 1548.5,976.6 1548.8,979.6 1549.1,970.2 1549.4,979.8 1549.7,983.4 1550.0,965.7 1550.3,966.6 1550.6,971.6 1550.9,974.4 1551.2,983.5 1551.5,977.2 1551.8,972.8 1552.1,973.9 1552.4,985.8 1552.7,983.7 1553.0,970.7 1553.3,971.1 1553.6,987.7 1553.9,987.6 1554.2,976.4 1554.5,971.1 1554.8,976.1 1555.1,981.4 1555.4,976.8 1555.7,984.5 1556.0,980.8 1556.3,974.2 1556.6,983.7 1556.9,988.4 1557.2,988.4 1557.5,981.6 1557.8,977.6 1558.1,991.2 1558.4,972.7 1558.7,979.3 1559.0,974.9 1559.3,979.3 1559.6,979.3 1559.9,976.4 1560.2,984.4 1560.5,974.5 1560.8,987.3 1561.1,991.3 1561.4,980.7 1561.7,983.9 1562.0,983.4 1562.3,978.9 1562.6,980.9 1562.9,991.9 1563.2,990.9 1563.5,992.9 1563.8,992.3 1564.1,981.5 1564.4,979.1 1564.7,987.1 1565.0,992.3 1565.3,988.1 1565.6,977.7 1565.9,994.1 1566.2,983.9 1566.5,993.7 1566.8,985.5 1567.1,985.4 1567.4,989.5 1567.7,991.7 1568.0,986.4 1568.3,979.7 1568.6,976.5 1568.9,987.0 1569.2,993.7 1569.5,979.8 1569.8,987.7 1570.1,976.6 1570.4,990.2 1570.7,981.6 1571.0,993.2 1571.3,984.4 1571.6,988.4 1571.9,977.5 1572.2,981.7 1572.5,996.0 1572.8,978.9 1573.1,979.6 1573.4,986.0 1573.7,983.9 1574.0,986.9 1574.3,985.6 1574.6,984.2 1574.9,981.6 1575.2,990.1 1575.5,995.8 1575.8,992.6 1576.1,985.6 1576.4,990.3 1576.7,987.7 1577.0,991.9 1577.3,987.0 1577.6,987.8 1577.9,996.2 1578.2,989.8 1578.5,983.6 1578.8,993.5 1579.1,992.7 1579.4,987.2 1579.7,988.2 1580.0,996.5 1580.3,986.7 1580.6,981.5 1580.9,989.5" fill="none" stroke="#000" stroke-width="2.3" stroke-linejoin="round" />
<line x1="1118.9" y1="767" x2="1118.9" y2="822" stroke="#1c7a2c" stroke-width="1.4"/>
<polygon points="1115.6,818.5 1122.2,818.5 1118.9,831.5" fill="#1c7a2c"/>
<line x1="1111.7" y1="938.5" x2="1111.7" y2="976" stroke="#1c7a2c" stroke-width="1.4"/>
<polygon points="1108.6,973 1114.8,973 1111.7,984.5" fill="#1c7a2c"/>
</g>
<line x1="1312.9" y1="725.2" x2="1380.3" y2="725.2" stroke="#a3101e" stroke-width="1.7"/>
<line x1="1431.1" y1="725.2" x2="1498.4" y2="725.2" stroke="#000" stroke-width="1.8"/>
<line x1="1312.9" y1="770.8" x2="1375.5" y2="770.8" stroke="#222" stroke-width="1.5" stroke-dasharray="1.8 2.6"/>
<line x1="1431.1" y1="770.8" x2="1498.4" y2="770.8" stroke="#555" stroke-width="1.2" stroke-dasharray="9.5 12"/>
<!-- frames -->
<rect x="101.3" y="615" width="641.4" height="421.8" fill="none" stroke="#000" stroke-width="2"/>
<rect x="976" y="616.8" width="604.5" height="434.2" fill="none" stroke="#000" stroke-width="2"/>
<rect x="609.6" y="893.5" width="129.4" height="138" fill="#fff" stroke="#000" stroke-width="1.6"/>
<polyline points="619.5,948.2 661.5,948.2" fill="none" stroke="#000" stroke-width="1.9" stroke-dasharray="0.1 10.5" stroke-linecap="round"/>
<ellipse cx="639.3" cy="948.2" rx="5.4" ry="4.3" fill="#000"/>
<polyline points="619.5,984.7 661.5,984.7" fill="none" stroke="#e8b0b0" stroke-width="1.1" stroke-dasharray="1.1 7" stroke-linecap="round"/>
<g fill="#d8000c" stroke="#5a0000" stroke-width="0.5"><polygon points="639.3,979.3 640.7,982.8 644.4,983.0 641.5,985.4 642.5,989.1 639.3,987.0 636.1,989.1 637.1,985.4 634.2,983.0 637.9,982.8"/></g>
<g fill="#00f000" stroke="#7af57a" stroke-width="1"><polygon points="639.3,1012.6 633.6,1022.0 645.0,1022.0"/></g>
<!-- text -->
<text x="476.86" y="52.9" font-size="45" fill="#000" font-family='"Liberation Sans", sans-serif' textLength="66.28" lengthAdjust="spacingAndGlyphs" stroke="#000" stroke-width="0.4">7,8</text>
<text x="477.93" y="217.3" font-size="45" fill="#000" font-family='"Liberation Sans", sans-serif' textLength="64.73" lengthAdjust="spacingAndGlyphs" stroke="#000" stroke-width="0.4">7,6</text>
<text x="477.93" y="383.5" font-size="45" fill="#000" font-family='"Liberation Sans", sans-serif' textLength="64.73" lengthAdjust="spacingAndGlyphs" stroke="#000" stroke-width="0.4">7,4</text>
<text transform="translate(449.0,345.80) rotate(-90)" font-size="41" fill="#000" font-family='"Liberation Sans", sans-serif' textLength="118.65" lengthAdjust="spacingAndGlyphs" stroke="#000" stroke-width="0.4">f(GHz)</text>
<text x="503.82" y="537.8" font-size="41.5" fill="#000" font-family='"Liberation Sans", sans-serif' textLength="89.89" lengthAdjust="spacingAndGlyphs" stroke="#000" stroke-width="0.4">14,5</text>
<text x="765.27" y="538.2" font-size="41.5" fill="#000" font-family='"Liberation Sans", sans-serif' textLength="86.57" lengthAdjust="spacingAndGlyphs" stroke="#000" stroke-width="0.4">15,0</text>
<text x="1021.82" y="537.9" font-size="41.5" fill="#000" font-family='"Liberation Sans", sans-serif' textLength="91.10" lengthAdjust="spacingAndGlyphs" stroke="#000" stroke-width="0.4">15,5</text>
<text x="751.60" y="575.5" font-size="38.5" fill="#000" font-family='"Liberation Sans", sans-serif' textLength="11.60" lengthAdjust="spacingAndGlyphs" stroke="#000" stroke-width="0.4">f</text>
<text x="762.96" y="600.0" font-size="38.5" fill="#000" font-family='"Liberation Sans", sans-serif' textLength="57.84" lengthAdjust="spacingAndGlyphs" stroke="#000" stroke-width="0.4">ext</text>
<text x="820.30" y="575.5" font-size="38.5" fill="#000" font-family='"Liberation Sans", sans-serif' textLength="116.82" lengthAdjust="spacingAndGlyphs" stroke="#000" stroke-width="0.4">(GHz)</text>
<text x="1270.52" y="541.6" font-size="48.5" fill="#000" font-family='"Liberation Sans", sans-serif' textLength="61.38" lengthAdjust="spacingAndGlyphs" stroke="#000" stroke-width="0.4">(a)</text>
<text x="1126.92" y="164.3" font-size="26" fill="#000" font-family='"Liberation Sans", sans-serif' textLength="44.10" lengthAdjust="spacingAndGlyphs" stroke="#000" stroke-width="0.4">nV</text>
<text x="1170.86" y="154.7" font-size="29.5" fill="#000" font-family='"Liberation Sans", sans-serif' textLength="16.85" lengthAdjust="spacingAndGlyphs" stroke="#000" stroke-width="0.4">2</text>
<text x="1186.60" y="164.3" font-size="26" fill="#000" font-family='"Liberation Sans", sans-serif' textLength="51.43" lengthAdjust="spacingAndGlyphs" stroke="#000" stroke-width="0.4">/Hz</text>
<text x="1181.92" y="197.6" font-size="30" fill="#000" font-family='"Liberation Sans", sans-serif' textLength="77.50" lengthAdjust="spacingAndGlyphs" stroke="#000" stroke-width="0.4">1,000</text>
<text x="1182.32" y="273.7" font-size="30" fill="#000" font-family='"Liberation Sans", sans-serif' textLength="65.73" lengthAdjust="spacingAndGlyphs" stroke="#000" stroke-width="0.4">1251</text>
<text x="1179.75" y="351.3" font-size="30" fill="#000" font-family='"Liberation Sans", sans-serif' textLength="70.06" lengthAdjust="spacingAndGlyphs" stroke="#000" stroke-width="0.4">2500</text>
<text x="1180.79" y="427.0" font-size="30" fill="#000" font-family='"Liberation Sans", sans-serif' textLength="69.01" lengthAdjust="spacingAndGlyphs" stroke="#000" stroke-width="0.4">3750</text>
<text x="1179.75" y="503.8" font-size="30" fill="#000" font-family='"Liberation Sans", sans-serif' textLength="70.06" lengthAdjust="spacingAndGlyphs" stroke="#000" stroke-width="0.4">5000</text>
<text x="662.19" y="100.1" font-size="58" fill="#eef0ff" font-family='"Liberation Serif", serif' textLength="32.57" lengthAdjust="spacingAndGlyphs" stroke="#eef0ff" stroke-width="1.3">ε</text>
<text x="705.55" y="100.6" font-size="42" fill="#eef0ff" font-family='"Liberation Sans", sans-serif' textLength="50.18" lengthAdjust="spacingAndGlyphs" stroke="#eef0ff" stroke-width="0.4">=J</text>
<text x="753.57" y="121.2" font-size="42" fill="#eef0ff" font-family='"Liberation Sans", sans-serif' textLength="57.98" lengthAdjust="spacingAndGlyphs" stroke="#eef0ff" stroke-width="0.4">RF</text>
<text x="813.62" y="100.6" font-size="42" fill="#eef0ff" font-family='"Liberation Sans", sans-serif' textLength="31.36" lengthAdjust="spacingAndGlyphs" stroke="#eef0ff" stroke-width="0.4">/J</text>
<text x="844.79" y="121.2" font-size="42" fill="#eef0ff" font-family='"Liberation Sans", sans-serif' textLength="64.07" lengthAdjust="spacingAndGlyphs" stroke="#eef0ff" stroke-width="0.4">DC</text>
<text x="919.02" y="100.1" font-size="42" fill="#eef0ff" font-family='"Liberation Serif", serif' textLength="26.40" lengthAdjust="spacingAndGlyphs" stroke="#eef0ff" stroke-width="0.4">=</text>
<text x="956.15" y="100.1" font-size="42" fill="#eef0ff" font-family='"Liberation Serif", serif' textLength="52.87" lengthAdjust="spacingAndGlyphs" stroke="#eef0ff" stroke-width="0.4">0.7</text>
<text x="25.00" y="684.3" font-size="38" fill="#000" font-family='"Liberation Sans", sans-serif' textLength="68.69" lengthAdjust="spacingAndGlyphs" stroke="#000" stroke-width="0.4">120</text>
<text x="47.47" y="803.5" font-size="38" fill="#000" font-family='"Liberation Sans", sans-serif' textLength="46.23" lengthAdjust="spacingAndGlyphs" stroke="#000" stroke-width="0.4">80</text>
<text x="48.57" y="921.4" font-size="38" fill="#000" font-family='"Liberation Sans", sans-serif' textLength="45.10" lengthAdjust="spacingAndGlyphs" stroke="#000" stroke-width="0.4">40</text>
<text x="72.45" y="1045.2" font-size="38" fill="#000" font-family='"Liberation Sans", sans-serif' textLength="21.46" lengthAdjust="spacingAndGlyphs" stroke="#000" stroke-width="0.4">0</text>
<text transform="translate(31.5,921.81) rotate(-90)" font-size="36" fill="#000" font-family='"Liberation Sans", sans-serif' textLength="146.84" lengthAdjust="spacingAndGlyphs" stroke="#000" stroke-width="0.4">Δf (MHz)</text>
<text x="61.06" y="1072.0" font-size="37.5" fill="#000" font-family='"Liberation Sans", sans-serif' textLength="79.44" lengthAdjust="spacingAndGlyphs" stroke="#000" stroke-width="0.4">14,5</text>
<text x="220.84" y="1072.0" font-size="37.5" fill="#000" font-family='"Liberation Sans", sans-serif' textLength="77.81" lengthAdjust="spacingAndGlyphs" stroke="#000" stroke-width="0.4">15,0</text>
<text x="380.23" y="1072.0" font-size="37.5" fill="#000" font-family='"Liberation Sans", sans-serif' textLength="80.86" lengthAdjust="spacingAndGlyphs" stroke="#000" stroke-width="0.4">15,5</text>
<text x="540.30" y="1072.0" font-size="37.5" fill="#000" font-family='"Liberation Sans", sans-serif' textLength="81.33" lengthAdjust="spacingAndGlyphs" stroke="#000" stroke-width="0.4">16,0</text>
<text x="701.83" y="1072.2" font-size="37.5" fill="#000" font-family='"Liberation Sans", sans-serif' textLength="44.89" lengthAdjust="spacingAndGlyphs" stroke="#000" stroke-width="0.4">16</text>
<text x="317.00" y="1107.7" font-size="36.5" fill="#000" font-family='"Liberation Sans", sans-serif' textLength="12.00" lengthAdjust="spacingAndGlyphs" stroke="#000" stroke-width="0.4">f</text>
<text x="327.77" y="1120.3" font-size="36.5" fill="#000" font-family='"Liberation Sans", sans-serif' textLength="55.25" lengthAdjust="spacingAndGlyphs" stroke="#000" stroke-width="0.4">ext</text>
<text x="394.31" y="1107.6" font-size="36.5" fill="#000" font-family='"Liberation Sans", sans-serif' textLength="114.77" lengthAdjust="spacingAndGlyphs" stroke="#000" stroke-width="0.4">(GHz)</text>
<text x="754.51" y="1094.0" font-size="48.5" fill="#000" font-family='"Liberation Sans", sans-serif' textLength="59.41" lengthAdjust="spacingAndGlyphs" stroke="#000" stroke-width="0.4">(b)</text>
<text x="703.88" y="924.2" font-size="29" fill="#000" font-family='"Liberation Sans", sans-serif' textLength="16.40" lengthAdjust="spacingAndGlyphs" stroke="#000" stroke-width="0.4">ε</text>
<text x="672.17" y="951.3" font-size="30.5" fill="#000" font-family='"Liberation Sans", sans-serif' textLength="63.27" lengthAdjust="spacingAndGlyphs" stroke="#000" stroke-width="0.4">0.78</text>
<text x="668.99" y="987.8" font-size="30.5" fill="#000" font-family='"Liberation Sans", sans-serif' textLength="62.04" lengthAdjust="spacingAndGlyphs" stroke="#000" stroke-width="0.4">0.70</text>
<text x="668.99" y="1024.3" font-size="30.5" fill="#000" font-family='"Liberation Sans", sans-serif' textLength="62.04" lengthAdjust="spacingAndGlyphs" stroke="#000" stroke-width="0.4">0.25</text>
<text x="915.76" y="665.5" font-size="35.5" fill="#000" font-family='"Liberation Sans", sans-serif' textLength="56.28" lengthAdjust="spacingAndGlyphs" stroke="#000" stroke-width="0.4">-20</text>
<text x="915.76" y="746.2" font-size="35.5" fill="#000" font-family='"Liberation Sans", sans-serif' textLength="56.28" lengthAdjust="spacingAndGlyphs" stroke="#000" stroke-width="0.4">-40</text>
<text x="915.76" y="824.3" font-size="35.5" fill="#000" font-family='"Liberation Sans", sans-serif' textLength="56.28" lengthAdjust="spacingAndGlyphs" stroke="#000" stroke-width="0.4">-60</text>
<text x="916.16" y="904.2" font-size="35.5" fill="#000" font-family='"Liberation Sans", sans-serif' textLength="56.70" lengthAdjust="spacingAndGlyphs" stroke="#000" stroke-width="0.4">-80</text>
<text x="894.15" y="982.6" font-size="35.5" fill="#000" font-family='"Liberation Sans", sans-serif' textLength="78.71" lengthAdjust="spacingAndGlyphs" stroke="#000" stroke-width="0.4">-100</text>
<text x="894.15" y="1062.2" font-size="35.5" fill="#000" font-family='"Liberation Sans", sans-serif' textLength="78.71" lengthAdjust="spacingAndGlyphs" stroke="#000" stroke-width="0.4">-120</text>
<text x="981.02" y="1085.7" font-size="35.5" fill="#000" font-family='"Liberation Sans", sans-serif' textLength="84.48" lengthAdjust="spacingAndGlyphs" stroke="#000" stroke-width="0.4">1E-3</text>
<text x="1146.17" y="1085.7" font-size="35.5" fill="#000" font-family='"Liberation Sans", sans-serif' textLength="69.06" lengthAdjust="spacingAndGlyphs" stroke="#000" stroke-width="0.4">0,01</text>
<text x="1317.78" y="1085.7" font-size="35.5" fill="#000" font-family='"Liberation Sans", sans-serif' textLength="47.05" lengthAdjust="spacingAndGlyphs" stroke="#000" stroke-width="0.4">0,1</text>
<text x="1494.83" y="1085.7" font-size="35.5" fill="#000" font-family='"Liberation Sans", sans-serif' textLength="14.44" lengthAdjust="spacingAndGlyphs" stroke="#000" stroke-width="0.4">1</text>
<text x="1216.19" y="1128.0" font-size="35" fill="#000" font-family='"Liberation Sans", sans-serif' textLength="111.85" lengthAdjust="spacingAndGlyphs" stroke="#000" stroke-width="0.4">f(GHz)</text>
<text x="1588.55" y="1093.8" font-size="47.5" fill="#000" font-family='"Liberation Sans", sans-serif' textLength="55.44" lengthAdjust="spacingAndGlyphs" stroke="#000" stroke-width="0.4">(c)</text>
<text transform="translate(884.9,1036.89) rotate(-90)" font-size="39" fill="#000" font-family='"Liberation Sans", sans-serif' textLength="71.35" lengthAdjust="spacingAndGlyphs" stroke="#000" stroke-width="0.4">PSD</text>
<text transform="translate(899.2,960.69) rotate(-90)" font-size="20" fill="#000" font-family='"Liberation Serif", serif' textLength="13.75" lengthAdjust="spacingAndGlyphs" stroke="#000" stroke-width="0.4">δ</text>
<text transform="translate(899.2,946.00) rotate(-90)" font-size="20" fill="#000" font-family='"Liberation Sans", sans-serif' textLength="12.00" lengthAdjust="spacingAndGlyphs" stroke="#000" stroke-width="0.4">a</text>
<text transform="translate(891.0,933.00) rotate(-90)" font-size="30" fill="#000" font-family='"Liberation Sans", sans-serif' stroke="#000" stroke-width="0.4">,</text>
<text transform="translate(884.9,912.46) rotate(-90)" font-size="39" fill="#c8101c" font-family='"Liberation Sans", sans-serif' textLength="73.86" lengthAdjust="spacingAndGlyphs" stroke="#c8101c" stroke-width="0.4">PSD</text>
<text transform="translate(899.0,835.41) rotate(-90)" font-size="21" fill="#c8101c" font-family='"Liberation Serif", serif' textLength="25.42" lengthAdjust="spacingAndGlyphs" stroke="#c8101c" stroke-width="0.4">δΦ</text>
<text transform="translate(886.6,794.06) rotate(-90)" font-size="38" fill="#000" font-family='"Liberation Sans", sans-serif' textLength="150.11" lengthAdjust="spacingAndGlyphs" stroke="#000" stroke-width="0.4">(dBc/Hz)</text>
<text x="1219.26" y="669.6" font-size="40" fill="#000" font-family='"Liberation Serif", serif' textLength="18.37" lengthAdjust="spacingAndGlyphs" stroke="#000" stroke-width="0.4">ε</text>
<text x="1294.87" y="669.6" font-size="38" fill="#c8101c" font-family='"Liberation Sans", sans-serif' textLength="81.01" lengthAdjust="spacingAndGlyphs" stroke="#c8101c" stroke-width="0.4">PSD</text>
<text x="1376.77" y="685.0" font-size="26" fill="#c8101c" font-family='"Liberation Serif", serif' textLength="41.44" lengthAdjust="spacingAndGlyphs" stroke="#c8101c" stroke-width="0.4">δΦ</text>
<text x="1448.24" y="669.6" font-size="37" fill="#000" font-family='"Liberation Sans", sans-serif' textLength="75.03" lengthAdjust="spacingAndGlyphs" stroke="#000" stroke-width="0.4">PSD</text>
<text x="1525.44" y="685.0" font-size="26" fill="#000" font-family='"Liberation Serif", serif' textLength="16.62" lengthAdjust="spacingAndGlyphs" stroke="#000" stroke-width="0.4">δ</text>
<text x="1543.56" y="685.0" font-size="27" fill="#000" font-family='"Liberation Sans", sans-serif' textLength="18.01" lengthAdjust="spacingAndGlyphs" stroke="#000" stroke-width="0.4">a</text>
<text x="1199.13" y="734.6" font-size="35.5" fill="#000" font-family='"Liberation Sans", sans-serif' textLength="49.72" lengthAdjust="spacingAndGlyphs" stroke="#000" stroke-width="0.4">0.0</text>
<text x="1200.18" y="780.7" font-size="35.5" fill="#000" font-family='"Liberation Sans", sans-serif' textLength="48.30" lengthAdjust="spacingAndGlyphs" stroke="#000" stroke-width="0.4">0.7</text>
<text x="1043.73" y="929.5" font-size="25" fill="#000" font-family='"Liberation Sans", sans-serif' font-weight="bold" font-style="italic" textLength="9.54" lengthAdjust="spacingAndGlyphs" stroke="#000" stroke-width="0.4">f</text>
<text x="1056.96" y="917.5" font-size="13" fill="#000" font-family='"Liberation Sans", sans-serif' font-weight="bold" font-style="italic" textLength="7.04" lengthAdjust="spacingAndGlyphs" stroke="#000" stroke-width="0.4">o</text>
<text x="1387.00" y="952.3" font-size="27" fill="#000" font-family='"Liberation Sans", sans-serif' font-weight="bold" font-style="italic" textLength="8.64" lengthAdjust="spacingAndGlyphs" stroke="#000" stroke-width="0.4">f</text>
<text x="1401.60" y="941.0" font-size="16" fill="#000" font-family='"Liberation Sans", sans-serif' font-weight="bold" font-style="italic" textLength="9.40" lengthAdjust="spacingAndGlyphs" stroke="#000" stroke-width="0.4">-2</text>
<text x="1049.76" y="745.1" font-size="28" fill="#000" font-family='"Liberation Sans", sans-serif' font-weight="bold" font-style="italic" textLength="9.01" lengthAdjust="spacingAndGlyphs" stroke="#000" stroke-width="0.4">f</text>
<text x="1067.60" y="733.0" font-size="17" fill="#000" font-family='"Liberation Sans", sans-serif' font-weight="bold" font-style="italic" textLength="13.00" lengthAdjust="spacingAndGlyphs" stroke="#000" stroke-width="0.4">-2</text>
<text x="1040.16" y="801.6" font-size="28" fill="#000" font-family='"Liberation Sans", sans-serif' font-weight="bold" font-style="italic" textLength="9.01" lengthAdjust="spacingAndGlyphs" stroke="#000" stroke-width="0.4">f</text>
<text x="1054.46" y="790.3" font-size="17" fill="#000" font-family='"Liberation Sans", sans-serif' font-weight="bold" font-style="italic" textLength="11.30" lengthAdjust="spacingAndGlyphs" stroke="#000" stroke-width="0.4">-2</text>
</svg>
</body></html>
